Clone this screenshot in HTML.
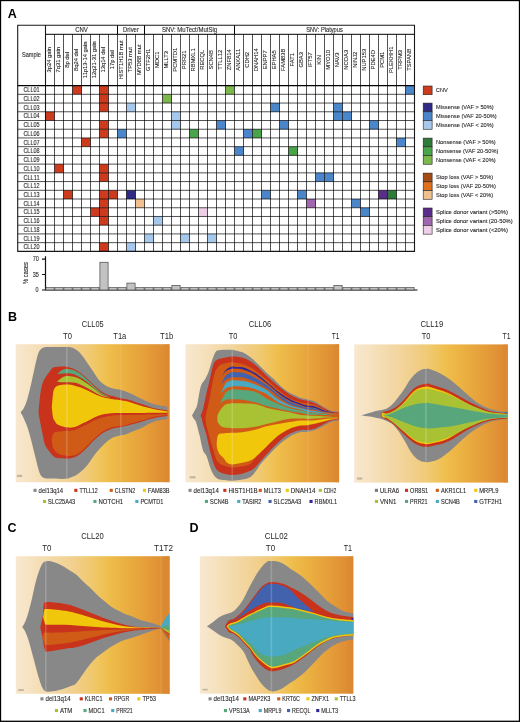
<!DOCTYPE html><html><head><meta charset='utf-8'><style>html,body{margin:0;padding:0;background:#fff;width:520px;height:722px;overflow:hidden}svg{display:block;will-change:transform}text{font-family:'Liberation Sans',sans-serif}</style></head><body><svg width='520' height='722' viewBox='0 0 520 722' font-family="Liberation Sans, sans-serif">
<defs><linearGradient id='bg' x1='0' y1='0' x2='1' y2='0'><stop offset='0' stop-color='#f8e8d0'/><stop offset='0.1' stop-color='#f6e2c0'/><stop offset='0.25' stop-color='#f3d8a6'/><stop offset='0.4' stop-color='#f1ce88'/><stop offset='0.5' stop-color='#f0c86c'/><stop offset='0.6' stop-color='#efbe4c'/><stop offset='0.7' stop-color='#ebb142'/><stop offset='0.85' stop-color='#e59d39'/><stop offset='1' stop-color='#dc8731'/></linearGradient></defs>
<rect width='520' height='722' fill='#fff'/>
<rect x='72.50' y='85.60' width='9.00' height='8.72' fill='#cd3b1f'/>
<rect x='99.50' y='85.60' width='9.00' height='8.72' fill='#cd3b1f'/>
<rect x='225.50' y='85.60' width='9.00' height='8.72' fill='#7cb84c'/>
<rect x='405.50' y='85.60' width='9.00' height='8.72' fill='#4a86c9'/>
<rect x='99.50' y='94.32' width='9.00' height='8.72' fill='#cd3b1f'/>
<rect x='162.50' y='94.32' width='9.00' height='8.72' fill='#7cb84c'/>
<rect x='99.50' y='103.05' width='9.00' height='8.72' fill='#cd3b1f'/>
<rect x='126.50' y='103.05' width='9.00' height='8.72' fill='#a5c8ec'/>
<rect x='270.50' y='103.05' width='9.00' height='8.72' fill='#4a86c9'/>
<rect x='333.50' y='103.05' width='9.00' height='8.72' fill='#4a86c9'/>
<rect x='45.50' y='111.77' width='9.00' height='8.72' fill='#cd3b1f'/>
<rect x='171.50' y='111.77' width='9.00' height='8.72' fill='#a5c8ec'/>
<rect x='333.50' y='111.77' width='9.00' height='8.72' fill='#4a86c9'/>
<rect x='342.50' y='111.77' width='9.00' height='8.72' fill='#4a86c9'/>
<rect x='99.50' y='120.50' width='9.00' height='8.72' fill='#cd3b1f'/>
<rect x='171.50' y='120.50' width='9.00' height='8.72' fill='#a5c8ec'/>
<rect x='216.50' y='120.50' width='9.00' height='8.72' fill='#4a86c9'/>
<rect x='279.50' y='120.50' width='9.00' height='8.72' fill='#4a86c9'/>
<rect x='369.50' y='120.50' width='9.00' height='8.72' fill='#4a86c9'/>
<rect x='99.50' y='129.22' width='9.00' height='8.72' fill='#cd3b1f'/>
<rect x='117.50' y='129.22' width='9.00' height='8.72' fill='#4a86c9'/>
<rect x='189.50' y='129.22' width='9.00' height='8.72' fill='#4aa44a'/>
<rect x='243.50' y='129.22' width='9.00' height='8.72' fill='#4a86c9'/>
<rect x='252.50' y='129.22' width='9.00' height='8.72' fill='#4aa44a'/>
<rect x='81.50' y='137.95' width='9.00' height='8.72' fill='#cd3b1f'/>
<rect x='396.50' y='137.95' width='9.00' height='8.72' fill='#4a86c9'/>
<rect x='234.50' y='146.67' width='9.00' height='8.72' fill='#4a86c9'/>
<rect x='288.50' y='146.67' width='9.00' height='8.72' fill='#4aa44a'/>
<rect x='54.50' y='164.12' width='9.00' height='8.72' fill='#cd3b1f'/>
<rect x='99.50' y='164.12' width='9.00' height='8.72' fill='#cd3b1f'/>
<rect x='99.50' y='172.85' width='9.00' height='8.72' fill='#cd3b1f'/>
<rect x='315.50' y='172.85' width='9.00' height='8.72' fill='#4a86c9'/>
<rect x='324.50' y='172.85' width='9.00' height='8.72' fill='#4a86c9'/>
<rect x='63.50' y='190.30' width='9.00' height='8.72' fill='#cd3b1f'/>
<rect x='99.50' y='190.30' width='9.00' height='8.72' fill='#cd3b1f'/>
<rect x='108.50' y='190.30' width='9.00' height='8.72' fill='#cd3b1f'/>
<rect x='126.50' y='190.30' width='9.00' height='8.72' fill='#2e2a85'/>
<rect x='261.50' y='190.30' width='9.00' height='8.72' fill='#4a86c9'/>
<rect x='297.50' y='190.30' width='9.00' height='8.72' fill='#4a86c9'/>
<rect x='378.50' y='190.30' width='9.00' height='8.72' fill='#5b2d8b'/>
<rect x='387.50' y='190.30' width='9.00' height='8.72' fill='#2f7b39'/>
<rect x='99.50' y='199.02' width='9.00' height='8.72' fill='#cd3b1f'/>
<rect x='135.50' y='199.02' width='9.00' height='8.72' fill='#f1c08f'/>
<rect x='306.50' y='199.02' width='9.00' height='8.72' fill='#a066b1'/>
<rect x='351.50' y='199.02' width='9.00' height='8.72' fill='#4a86c9'/>
<rect x='90.50' y='207.75' width='9.00' height='8.72' fill='#cd3b1f'/>
<rect x='99.50' y='207.75' width='9.00' height='8.72' fill='#cd3b1f'/>
<rect x='198.50' y='207.75' width='9.00' height='8.72' fill='#efcfe8'/>
<rect x='360.50' y='207.75' width='9.00' height='8.72' fill='#4a86c9'/>
<rect x='99.50' y='216.47' width='9.00' height='8.72' fill='#cd3b1f'/>
<rect x='153.50' y='216.47' width='9.00' height='8.72' fill='#a5c8ec'/>
<rect x='144.50' y='233.92' width='9.00' height='8.72' fill='#a5c8ec'/>
<rect x='180.50' y='233.92' width='9.00' height='8.72' fill='#a5c8ec'/>
<rect x='207.50' y='233.92' width='9.00' height='8.72' fill='#a5c8ec'/>
<rect x='99.50' y='242.65' width='9.00' height='8.72' fill='#cd3b1f'/>
<rect x='126.50' y='242.65' width='9.00' height='8.72' fill='#a5c8ec'/>
<path d='M54.50,34.3V251.38 M63.50,34.3V251.38 M72.50,34.3V251.38 M81.50,34.3V251.38 M90.50,34.3V251.38 M99.50,34.3V251.38 M108.50,34.3V251.38 M117.50,34.3V251.38 M126.50,34.3V251.38 M135.50,34.3V251.38 M144.50,34.3V251.38 M153.50,34.3V251.38 M162.50,34.3V251.38 M171.50,34.3V251.38 M180.50,34.3V251.38 M189.50,34.3V251.38 M198.50,34.3V251.38 M207.50,34.3V251.38 M216.50,34.3V251.38 M225.50,34.3V251.38 M234.50,34.3V251.38 M243.50,34.3V251.38 M252.50,34.3V251.38 M261.50,34.3V251.38 M270.50,34.3V251.38 M279.50,34.3V251.38 M288.50,34.3V251.38 M297.50,34.3V251.38 M306.50,34.3V251.38 M315.50,34.3V251.38 M324.50,34.3V251.38 M333.50,34.3V251.38 M342.50,34.3V251.38 M351.50,34.3V251.38 M360.50,34.3V251.38 M369.50,34.3V251.38 M378.50,34.3V251.38 M387.50,34.3V251.38 M396.50,34.3V251.38 M405.50,34.3V251.38' stroke='#000' stroke-opacity='0.68' stroke-width='1.0' fill='none'/>
<path d='M17.7,94.32H414.5 M17.7,103.05H414.5 M17.7,111.77H414.5 M17.7,120.50H414.5 M17.7,129.22H414.5 M17.7,137.95H414.5 M17.7,146.67H414.5 M17.7,155.40H414.5 M17.7,164.12H414.5 M17.7,172.85H414.5 M17.7,181.57H414.5 M17.7,190.30H414.5 M17.7,199.02H414.5 M17.7,207.75H414.5 M17.7,216.47H414.5 M17.7,225.20H414.5 M17.7,233.92H414.5 M17.7,242.65H414.5' stroke='#000' stroke-opacity='0.68' stroke-width='1.0' fill='none'/>
<path d='M117.50,25.3V34.3 M144.50,25.3V34.3 M234.50,25.3V34.3 M45.5,34.3H414.5' stroke='#000' stroke-width='1.0' fill='none'/>
<path d='M17.7,25.3H414.5V251.38H17.7Z M45.5,25.3V251.38' stroke='#000' stroke-opacity='0.9' stroke-width='1.1' fill='none'/>
<path d='M17.7,85.6H414.5' stroke='#000' stroke-width='1.3' fill='none'/>
<text x='81.50' y='31.80' font-size='6.7' text-anchor='middle' font-weight='normal' fill='#231f20' textLength='12.7' lengthAdjust='spacingAndGlyphs' stroke='#231f20' stroke-width='0.1' >CNV</text>
<text x='131.00' y='31.80' font-size='6.7' text-anchor='middle' font-weight='normal' fill='#231f20' textLength='15.8' lengthAdjust='spacingAndGlyphs' stroke='#231f20' stroke-width='0.1' >Driver</text>
<text x='189.50' y='31.80' font-size='6.7' text-anchor='middle' font-weight='normal' fill='#231f20' textLength='55.2' lengthAdjust='spacingAndGlyphs' stroke='#231f20' stroke-width='0.1' >SNV: MuTect/MutSig</text>
<text x='324.50' y='31.80' font-size='6.7' text-anchor='middle' font-weight='normal' fill='#231f20' textLength='36.6' lengthAdjust='spacingAndGlyphs' stroke='#231f20' stroke-width='0.1' >SNV: Platypus</text>
<text x='21.90' y='57.40' font-size='6.7' text-anchor='start' font-weight='normal' fill='#231f20' textLength='19.0' lengthAdjust='spacingAndGlyphs' stroke='#231f20' stroke-width='0.1' >Sample</text>
<text x='0' y='0' font-size='6.1' text-anchor='middle' fill='#231f20' stroke='#231f20' stroke-width='0.1' textLength='25.48' lengthAdjust='spacingAndGlyphs' transform='translate(51.45,59.80) rotate(-90)'>3p24 gain</text>
<text x='0' y='0' font-size='6.1' text-anchor='middle' fill='#231f20' stroke='#231f20' stroke-width='0.1' textLength='25.48' lengthAdjust='spacingAndGlyphs' transform='translate(60.45,59.80) rotate(-90)'>7q31 gain</text>
<text x='0' y='0' font-size='6.1' text-anchor='middle' fill='#231f20' stroke='#231f20' stroke-width='0.1' textLength='15.80' lengthAdjust='spacingAndGlyphs' transform='translate(69.45,59.80) rotate(-90)'>8p del</text>
<text x='0' y='0' font-size='6.1' text-anchor='middle' fill='#231f20' stroke='#231f20' stroke-width='0.1' textLength='22.25' lengthAdjust='spacingAndGlyphs' transform='translate(78.45,59.80) rotate(-90)'>8q24 del</text>
<text x='0' y='0' font-size='6.1' text-anchor='middle' fill='#231f20' stroke='#231f20' stroke-width='0.1' textLength='36.66' lengthAdjust='spacingAndGlyphs' transform='translate(87.45,59.80) rotate(-90)'>11p13-14 gain</text>
<text x='0' y='0' font-size='6.1' text-anchor='middle' fill='#231f20' stroke='#231f20' stroke-width='0.1' textLength='37.09' lengthAdjust='spacingAndGlyphs' transform='translate(96.45,59.80) rotate(-90)'>12q21-31 gain</text>
<text x='0' y='0' font-size='6.1' text-anchor='middle' fill='#231f20' stroke='#231f20' stroke-width='0.1' textLength='25.48' lengthAdjust='spacingAndGlyphs' transform='translate(105.45,59.80) rotate(-90)'>13q14 del</text>
<text x='0' y='0' font-size='6.1' text-anchor='middle' fill='#231f20' stroke='#231f20' stroke-width='0.1' textLength='19.03' lengthAdjust='spacingAndGlyphs' transform='translate(114.45,59.80) rotate(-90)'>17p del</text>
<text x='0' y='0' font-size='6.1' text-anchor='middle' fill='#231f20' stroke='#231f20' stroke-width='0.1' textLength='39.00' lengthAdjust='spacingAndGlyphs' transform='translate(123.45,59.80) rotate(-90)'>HIST1H1B mut</text>
<text x='0' y='0' font-size='6.1' text-anchor='middle' fill='#231f20' stroke='#231f20' stroke-width='0.1' textLength='25.14' lengthAdjust='spacingAndGlyphs' transform='translate(132.45,59.80) rotate(-90)'>TP53 mut</text>
<text x='0' y='0' font-size='6.1' text-anchor='middle' fill='#231f20' stroke='#231f20' stroke-width='0.1' textLength='30.62' lengthAdjust='spacingAndGlyphs' transform='translate(141.45,59.80) rotate(-90)'>MYD88 mut</text>
<text x='0' y='0' font-size='6.1' text-anchor='middle' fill='#231f20' stroke='#231f20' stroke-width='0.1' textLength='22.24' lengthAdjust='spacingAndGlyphs' transform='translate(150.45,59.80) rotate(-90)'>GTF2H1</text>
<text x='0' y='0' font-size='6.1' text-anchor='middle' fill='#231f20' stroke='#231f20' stroke-width='0.1' textLength='16.43' lengthAdjust='spacingAndGlyphs' transform='translate(159.45,59.80) rotate(-90)'>MDC1</text>
<text x='0' y='0' font-size='6.1' text-anchor='middle' fill='#231f20' stroke='#231f20' stroke-width='0.1' textLength='17.62' lengthAdjust='spacingAndGlyphs' transform='translate(168.45,59.80) rotate(-90)'>MLLT3</text>
<text x='0' y='0' font-size='6.1' text-anchor='middle' fill='#231f20' stroke='#231f20' stroke-width='0.1' textLength='23.85' lengthAdjust='spacingAndGlyphs' transform='translate(177.45,59.80) rotate(-90)'>PCMTD1</text>
<text x='0' y='0' font-size='6.1' text-anchor='middle' fill='#231f20' stroke='#231f20' stroke-width='0.1' textLength='18.70' lengthAdjust='spacingAndGlyphs' transform='translate(186.45,59.80) rotate(-90)'>PRR21</text>
<text x='0' y='0' font-size='6.1' text-anchor='middle' fill='#231f20' stroke='#231f20' stroke-width='0.1' textLength='23.21' lengthAdjust='spacingAndGlyphs' transform='translate(195.45,59.80) rotate(-90)'>RBMXL1</text>
<text x='0' y='0' font-size='6.1' text-anchor='middle' fill='#231f20' stroke='#231f20' stroke-width='0.1' textLength='19.98' lengthAdjust='spacingAndGlyphs' transform='translate(204.45,59.80) rotate(-90)'>RECQL</text>
<text x='0' y='0' font-size='6.1' text-anchor='middle' fill='#231f20' stroke='#231f20' stroke-width='0.1' textLength='19.34' lengthAdjust='spacingAndGlyphs' transform='translate(213.45,59.80) rotate(-90)'>SCN4B</text>
<text x='0' y='0' font-size='6.1' text-anchor='middle' fill='#231f20' stroke='#231f20' stroke-width='0.1' textLength='19.99' lengthAdjust='spacingAndGlyphs' transform='translate(222.45,59.80) rotate(-90)'>TTLL12</text>
<text x='0' y='0' font-size='6.1' text-anchor='middle' fill='#231f20' stroke='#231f20' stroke-width='0.1' textLength='20.95' lengthAdjust='spacingAndGlyphs' transform='translate(231.45,59.80) rotate(-90)'>ZNF814</text>
<text x='0' y='0' font-size='6.1' text-anchor='middle' fill='#231f20' stroke='#231f20' stroke-width='0.1' textLength='21.82' lengthAdjust='spacingAndGlyphs' transform='translate(240.45,59.80) rotate(-90)'>ANXA11</text>
<text x='0' y='0' font-size='6.1' text-anchor='middle' fill='#231f20' stroke='#231f20' stroke-width='0.1' textLength='15.79' lengthAdjust='spacingAndGlyphs' transform='translate(249.45,59.80) rotate(-90)'>CDH2</text>
<text x='0' y='0' font-size='6.1' text-anchor='middle' fill='#231f20' stroke='#231f20' stroke-width='0.1' textLength='22.89' lengthAdjust='spacingAndGlyphs' transform='translate(258.45,59.80) rotate(-90)'>DNAH14</text>
<text x='0' y='0' font-size='6.1' text-anchor='middle' fill='#231f20' stroke='#231f20' stroke-width='0.1' textLength='19.02' lengthAdjust='spacingAndGlyphs' transform='translate(267.45,59.80) rotate(-90)'>ENPP7</text>
<text x='0' y='0' font-size='6.1' text-anchor='middle' fill='#231f20' stroke='#231f20' stroke-width='0.1' textLength='19.02' lengthAdjust='spacingAndGlyphs' transform='translate(276.45,59.80) rotate(-90)'>EPHA5</text>
<text x='0' y='0' font-size='6.1' text-anchor='middle' fill='#231f20' stroke='#231f20' stroke-width='0.1' textLength='22.24' lengthAdjust='spacingAndGlyphs' transform='translate(285.45,59.80) rotate(-90)'>FAM83B</text>
<text x='0' y='0' font-size='6.1' text-anchor='middle' fill='#231f20' stroke='#231f20' stroke-width='0.1' textLength='13.43' lengthAdjust='spacingAndGlyphs' transform='translate(294.45,59.80) rotate(-90)'>FAT1</text>
<text x='0' y='0' font-size='6.1' text-anchor='middle' fill='#231f20' stroke='#231f20' stroke-width='0.1' textLength='15.47' lengthAdjust='spacingAndGlyphs' transform='translate(303.45,59.80) rotate(-90)'>GBA3</text>
<text x='0' y='0' font-size='6.1' text-anchor='middle' fill='#231f20' stroke='#231f20' stroke-width='0.1' textLength='15.15' lengthAdjust='spacingAndGlyphs' transform='translate(312.45,59.80) rotate(-90)'>IFT57</text>
<text x='0' y='0' font-size='6.1' text-anchor='middle' fill='#231f20' stroke='#231f20' stroke-width='0.1' textLength='9.67' lengthAdjust='spacingAndGlyphs' transform='translate(321.45,59.80) rotate(-90)'>KIN</text>
<text x='0' y='0' font-size='6.1' text-anchor='middle' fill='#231f20' stroke='#231f20' stroke-width='0.1' textLength='19.66' lengthAdjust='spacingAndGlyphs' transform='translate(330.45,59.80) rotate(-90)'>MYO10</text>
<text x='0' y='0' font-size='6.1' text-anchor='middle' fill='#231f20' stroke='#231f20' stroke-width='0.1' textLength='14.72' lengthAdjust='spacingAndGlyphs' transform='translate(339.45,59.80) rotate(-90)'>NAV3</text>
<text x='0' y='0' font-size='6.1' text-anchor='middle' fill='#231f20' stroke='#231f20' stroke-width='0.1' textLength='19.98' lengthAdjust='spacingAndGlyphs' transform='translate(348.45,59.80) rotate(-90)'>NCOA3</text>
<text x='0' y='0' font-size='6.1' text-anchor='middle' fill='#231f20' stroke='#231f20' stroke-width='0.1' textLength='16.11' lengthAdjust='spacingAndGlyphs' transform='translate(357.45,59.80) rotate(-90)'>NINJ2</text>
<text x='0' y='0' font-size='6.1' text-anchor='middle' fill='#231f20' stroke='#231f20' stroke-width='0.1' textLength='21.92' lengthAdjust='spacingAndGlyphs' transform='translate(366.45,59.80) rotate(-90)'>NUP153</text>
<text x='0' y='0' font-size='6.1' text-anchor='middle' fill='#231f20' stroke='#231f20' stroke-width='0.1' textLength='19.34' lengthAdjust='spacingAndGlyphs' transform='translate(375.45,59.80) rotate(-90)'>PDE4D</text>
<text x='0' y='0' font-size='6.1' text-anchor='middle' fill='#231f20' stroke='#231f20' stroke-width='0.1' textLength='16.11' lengthAdjust='spacingAndGlyphs' transform='translate(384.45,59.80) rotate(-90)'>PCM1</text>
<text x='0' y='0' font-size='6.1' text-anchor='middle' fill='#231f20' stroke='#231f20' stroke-width='0.1' textLength='26.44' lengthAdjust='spacingAndGlyphs' transform='translate(393.45,59.80) rotate(-90)'>PLEKHH1</text>
<text x='0' y='0' font-size='6.1' text-anchor='middle' fill='#231f20' stroke='#231f20' stroke-width='0.1' textLength='19.66' lengthAdjust='spacingAndGlyphs' transform='translate(402.45,59.80) rotate(-90)'>TRPM3</text>
<text x='0' y='0' font-size='6.1' text-anchor='middle' fill='#231f20' stroke='#231f20' stroke-width='0.1' textLength='22.13' lengthAdjust='spacingAndGlyphs' transform='translate(411.45,59.80) rotate(-90)'>TSPAN8</text>
<text x='23.40' y='92.25' font-size='6.7' text-anchor='start' font-weight='normal' fill='#231f20' textLength='16.2' lengthAdjust='spacingAndGlyphs' stroke='#231f20' stroke-width='0.1' >CLL01</text>
<text x='23.40' y='100.97' font-size='6.7' text-anchor='start' font-weight='normal' fill='#231f20' textLength='16.2' lengthAdjust='spacingAndGlyphs' stroke='#231f20' stroke-width='0.1' >CLL02</text>
<text x='23.40' y='109.70' font-size='6.7' text-anchor='start' font-weight='normal' fill='#231f20' textLength='16.2' lengthAdjust='spacingAndGlyphs' stroke='#231f20' stroke-width='0.1' >CLL03</text>
<text x='23.40' y='118.42' font-size='6.7' text-anchor='start' font-weight='normal' fill='#231f20' textLength='16.2' lengthAdjust='spacingAndGlyphs' stroke='#231f20' stroke-width='0.1' >CLL04</text>
<text x='23.40' y='127.15' font-size='6.7' text-anchor='start' font-weight='normal' fill='#231f20' textLength='16.2' lengthAdjust='spacingAndGlyphs' stroke='#231f20' stroke-width='0.1' >CLL05</text>
<text x='23.40' y='135.88' font-size='6.7' text-anchor='start' font-weight='normal' fill='#231f20' textLength='16.2' lengthAdjust='spacingAndGlyphs' stroke='#231f20' stroke-width='0.1' >CLL06</text>
<text x='23.40' y='144.60' font-size='6.7' text-anchor='start' font-weight='normal' fill='#231f20' textLength='16.2' lengthAdjust='spacingAndGlyphs' stroke='#231f20' stroke-width='0.1' >CLL07</text>
<text x='23.40' y='153.32' font-size='6.7' text-anchor='start' font-weight='normal' fill='#231f20' textLength='16.2' lengthAdjust='spacingAndGlyphs' stroke='#231f20' stroke-width='0.1' >CLL08</text>
<text x='23.40' y='162.05' font-size='6.7' text-anchor='start' font-weight='normal' fill='#231f20' textLength='16.2' lengthAdjust='spacingAndGlyphs' stroke='#231f20' stroke-width='0.1' >CLL09</text>
<text x='23.40' y='170.78' font-size='6.7' text-anchor='start' font-weight='normal' fill='#231f20' textLength='16.2' lengthAdjust='spacingAndGlyphs' stroke='#231f20' stroke-width='0.1' >CLL10</text>
<text x='23.40' y='179.50' font-size='6.7' text-anchor='start' font-weight='normal' fill='#231f20' textLength='16.2' lengthAdjust='spacingAndGlyphs' stroke='#231f20' stroke-width='0.1' >CLL11</text>
<text x='23.40' y='188.22' font-size='6.7' text-anchor='start' font-weight='normal' fill='#231f20' textLength='16.2' lengthAdjust='spacingAndGlyphs' stroke='#231f20' stroke-width='0.1' >CLL12</text>
<text x='23.40' y='196.95' font-size='6.7' text-anchor='start' font-weight='normal' fill='#231f20' textLength='16.2' lengthAdjust='spacingAndGlyphs' stroke='#231f20' stroke-width='0.1' >CLL13</text>
<text x='23.40' y='205.67' font-size='6.7' text-anchor='start' font-weight='normal' fill='#231f20' textLength='16.2' lengthAdjust='spacingAndGlyphs' stroke='#231f20' stroke-width='0.1' >CLL14</text>
<text x='23.40' y='214.40' font-size='6.7' text-anchor='start' font-weight='normal' fill='#231f20' textLength='16.2' lengthAdjust='spacingAndGlyphs' stroke='#231f20' stroke-width='0.1' >CLL15</text>
<text x='23.40' y='223.12' font-size='6.7' text-anchor='start' font-weight='normal' fill='#231f20' textLength='16.2' lengthAdjust='spacingAndGlyphs' stroke='#231f20' stroke-width='0.1' >CLL16</text>
<text x='23.40' y='231.85' font-size='6.7' text-anchor='start' font-weight='normal' fill='#231f20' textLength='16.2' lengthAdjust='spacingAndGlyphs' stroke='#231f20' stroke-width='0.1' >CLL18</text>
<text x='23.40' y='240.57' font-size='6.7' text-anchor='start' font-weight='normal' fill='#231f20' textLength='16.2' lengthAdjust='spacingAndGlyphs' stroke='#231f20' stroke-width='0.1' >CLL19</text>
<text x='23.40' y='249.30' font-size='6.7' text-anchor='start' font-weight='normal' fill='#231f20' textLength='16.2' lengthAdjust='spacingAndGlyphs' stroke='#231f20' stroke-width='0.1' >CLL20</text>
<rect x='423.2' y='86' width='8.9' height='8.72' fill='#cd3b1f' stroke='#222' stroke-width='0.6'/>
<text x='435.80' y='91.60' font-size='6.2' text-anchor='start' font-weight='normal' fill='#231f20' textLength='12.1' lengthAdjust='spacingAndGlyphs' stroke='#231f20' stroke-width='0.1' >CNV</text>
<rect x='423.2' y='103.10' width='8.9' height='8.72' fill='#2e2a85' stroke='#222' stroke-width='0.6'/>
<text x='436.00' y='109.36' font-size='6.2' text-anchor='start' font-weight='normal' fill='#231f20' textLength='57.6' lengthAdjust='spacingAndGlyphs' stroke='#231f20' stroke-width='0.1' >Missense (VAF &gt; 50%)</text>
<rect x='423.2' y='111.82' width='8.9' height='8.72' fill='#4a86c9' stroke='#222' stroke-width='0.6'/>
<text x='436.00' y='118.08' font-size='6.2' text-anchor='start' font-weight='normal' fill='#231f20' textLength='60.7' lengthAdjust='spacingAndGlyphs' stroke='#231f20' stroke-width='0.1' >Missense (VAF 20-50%)</text>
<rect x='423.2' y='120.54' width='8.9' height='8.72' fill='#a5c8ec' stroke='#222' stroke-width='0.6'/>
<text x='436.00' y='126.80' font-size='6.2' text-anchor='start' font-weight='normal' fill='#231f20' textLength='57.6' lengthAdjust='spacingAndGlyphs' stroke='#231f20' stroke-width='0.1' >Missense (VAF &lt; 20%)</text>
<rect x='423.2' y='138.10' width='8.9' height='8.72' fill='#2f7b39' stroke='#222' stroke-width='0.6'/>
<text x='436.00' y='144.36' font-size='6.2' text-anchor='start' font-weight='normal' fill='#231f20' textLength='59.7' lengthAdjust='spacingAndGlyphs' stroke='#231f20' stroke-width='0.1' >Nonsense (VAF &gt; 50%)</text>
<rect x='423.2' y='146.82' width='8.9' height='8.72' fill='#4aa44a' stroke='#222' stroke-width='0.6'/>
<text x='436.00' y='153.08' font-size='6.2' text-anchor='start' font-weight='normal' fill='#231f20' textLength='62.3' lengthAdjust='spacingAndGlyphs' stroke='#231f20' stroke-width='0.1' >Nonsense (VAF 20-50%)</text>
<rect x='423.2' y='155.54' width='8.9' height='8.72' fill='#7cb84c' stroke='#222' stroke-width='0.6'/>
<text x='436.00' y='161.80' font-size='6.2' text-anchor='start' font-weight='normal' fill='#231f20' textLength='59.7' lengthAdjust='spacingAndGlyphs' stroke='#231f20' stroke-width='0.1' >Nonsense (VAF &lt; 20%)</text>
<rect x='423.2' y='173.10' width='8.9' height='8.72' fill='#a54b15' stroke='#222' stroke-width='0.6'/>
<text x='436.00' y='179.36' font-size='6.2' text-anchor='start' font-weight='normal' fill='#231f20' textLength='57.1' lengthAdjust='spacingAndGlyphs' stroke='#231f20' stroke-width='0.1' >Stop loss (VAF &gt; 50%)</text>
<rect x='423.2' y='181.82' width='8.9' height='8.72' fill='#e0701c' stroke='#222' stroke-width='0.6'/>
<text x='436.00' y='188.08' font-size='6.2' text-anchor='start' font-weight='normal' fill='#231f20' textLength='60.0' lengthAdjust='spacingAndGlyphs' stroke='#231f20' stroke-width='0.1' >Stop loss (VAF 20-50%)</text>
<rect x='423.2' y='190.54' width='8.9' height='8.72' fill='#f1c08f' stroke='#222' stroke-width='0.6'/>
<text x='436.00' y='196.80' font-size='6.2' text-anchor='start' font-weight='normal' fill='#231f20' textLength='57.1' lengthAdjust='spacingAndGlyphs' stroke='#231f20' stroke-width='0.1' >Stop loss (VAF &lt; 20%)</text>
<rect x='423.2' y='208.00' width='8.9' height='8.72' fill='#5b2d8b' stroke='#222' stroke-width='0.6'/>
<text x='436.00' y='214.26' font-size='6.2' text-anchor='start' font-weight='normal' fill='#231f20' textLength='71.9' lengthAdjust='spacingAndGlyphs' stroke='#231f20' stroke-width='0.1' >Splice donor variant (&gt;50%)</text>
<rect x='423.2' y='216.72' width='8.9' height='8.72' fill='#a066b1' stroke='#222' stroke-width='0.6'/>
<text x='436.00' y='222.98' font-size='6.2' text-anchor='start' font-weight='normal' fill='#231f20' textLength='76.7' lengthAdjust='spacingAndGlyphs' stroke='#231f20' stroke-width='0.1' >Splice donor variant (20-50%)</text>
<rect x='423.2' y='225.44' width='8.9' height='8.72' fill='#efcfe8' stroke='#222' stroke-width='0.6'/>
<text x='436.00' y='231.70' font-size='6.2' text-anchor='start' font-weight='normal' fill='#231f20' textLength='71.9' lengthAdjust='spacingAndGlyphs' stroke='#231f20' stroke-width='0.1' >Splice donor variant (&lt;20%)</text>
<path d='M45.5,256.2V290.0 M45.5,290.0H417.5 M42,259.1H45.5 M42,274.5H45.5 M42,290.0H45.5' stroke='#111' stroke-width='1.2' fill='none'/>
<text x='38.80' y='260.90' font-size='6.6' text-anchor='end' font-weight='normal' fill='#231f20' textLength='6.1' lengthAdjust='spacingAndGlyphs' stroke='#231f20' stroke-width='0.1' >70</text>
<text x='38.80' y='276.80' font-size='6.6' text-anchor='end' font-weight='normal' fill='#231f20' textLength='6.1' lengthAdjust='spacingAndGlyphs' stroke='#231f20' stroke-width='0.1' >35</text>
<text x='38.40' y='292.10' font-size='6.6' text-anchor='end' font-weight='normal' fill='#231f20' textLength='3.0' lengthAdjust='spacingAndGlyphs' stroke='#231f20' stroke-width='0.1' >0</text>
<text x='0' y='0' font-size='7.6' text-anchor='middle' fill='#231f20' stroke='#231f20' stroke-width='0.12' textLength='21.9' lengthAdjust='spacingAndGlyphs' transform='translate(27.8,273.0) rotate(-90)'>% cases</text>
<rect x='45.90' y='287.68' width='8.20' height='2.32' fill='#c2c2c2' stroke='#333' stroke-width='0.6'/>
<rect x='54.90' y='287.68' width='8.20' height='2.32' fill='#c2c2c2' stroke='#333' stroke-width='0.6'/>
<rect x='63.90' y='287.68' width='8.20' height='2.32' fill='#c2c2c2' stroke='#333' stroke-width='0.6'/>
<rect x='72.90' y='287.68' width='8.20' height='2.32' fill='#c2c2c2' stroke='#333' stroke-width='0.6'/>
<rect x='81.90' y='287.68' width='8.20' height='2.32' fill='#c2c2c2' stroke='#333' stroke-width='0.6'/>
<rect x='90.90' y='287.68' width='8.20' height='2.32' fill='#c2c2c2' stroke='#333' stroke-width='0.6'/>
<rect x='99.90' y='262.21' width='8.20' height='27.79' fill='#c2c2c2' stroke='#333' stroke-width='0.6'/>
<rect x='108.90' y='287.68' width='8.20' height='2.32' fill='#c2c2c2' stroke='#333' stroke-width='0.6'/>
<rect x='117.90' y='287.68' width='8.20' height='2.32' fill='#c2c2c2' stroke='#333' stroke-width='0.6'/>
<rect x='126.90' y='283.05' width='8.20' height='6.95' fill='#c2c2c2' stroke='#333' stroke-width='0.6'/>
<rect x='135.90' y='287.68' width='8.20' height='2.32' fill='#c2c2c2' stroke='#333' stroke-width='0.6'/>
<rect x='144.90' y='287.68' width='8.20' height='2.32' fill='#c2c2c2' stroke='#333' stroke-width='0.6'/>
<rect x='153.90' y='287.68' width='8.20' height='2.32' fill='#c2c2c2' stroke='#333' stroke-width='0.6'/>
<rect x='162.90' y='287.68' width='8.20' height='2.32' fill='#c2c2c2' stroke='#333' stroke-width='0.6'/>
<rect x='171.90' y='285.37' width='8.20' height='4.63' fill='#c2c2c2' stroke='#333' stroke-width='0.6'/>
<rect x='180.90' y='287.68' width='8.20' height='2.32' fill='#c2c2c2' stroke='#333' stroke-width='0.6'/>
<rect x='189.90' y='287.68' width='8.20' height='2.32' fill='#c2c2c2' stroke='#333' stroke-width='0.6'/>
<rect x='198.90' y='287.68' width='8.20' height='2.32' fill='#c2c2c2' stroke='#333' stroke-width='0.6'/>
<rect x='207.90' y='287.68' width='8.20' height='2.32' fill='#c2c2c2' stroke='#333' stroke-width='0.6'/>
<rect x='216.90' y='287.68' width='8.20' height='2.32' fill='#c2c2c2' stroke='#333' stroke-width='0.6'/>
<rect x='225.90' y='287.68' width='8.20' height='2.32' fill='#c2c2c2' stroke='#333' stroke-width='0.6'/>
<rect x='234.90' y='287.68' width='8.20' height='2.32' fill='#c2c2c2' stroke='#333' stroke-width='0.6'/>
<rect x='243.90' y='287.68' width='8.20' height='2.32' fill='#c2c2c2' stroke='#333' stroke-width='0.6'/>
<rect x='252.90' y='287.68' width='8.20' height='2.32' fill='#c2c2c2' stroke='#333' stroke-width='0.6'/>
<rect x='261.90' y='287.68' width='8.20' height='2.32' fill='#c2c2c2' stroke='#333' stroke-width='0.6'/>
<rect x='270.90' y='287.68' width='8.20' height='2.32' fill='#c2c2c2' stroke='#333' stroke-width='0.6'/>
<rect x='279.90' y='287.68' width='8.20' height='2.32' fill='#c2c2c2' stroke='#333' stroke-width='0.6'/>
<rect x='288.90' y='287.68' width='8.20' height='2.32' fill='#c2c2c2' stroke='#333' stroke-width='0.6'/>
<rect x='297.90' y='287.68' width='8.20' height='2.32' fill='#c2c2c2' stroke='#333' stroke-width='0.6'/>
<rect x='306.90' y='287.68' width='8.20' height='2.32' fill='#c2c2c2' stroke='#333' stroke-width='0.6'/>
<rect x='315.90' y='287.68' width='8.20' height='2.32' fill='#c2c2c2' stroke='#333' stroke-width='0.6'/>
<rect x='324.90' y='287.68' width='8.20' height='2.32' fill='#c2c2c2' stroke='#333' stroke-width='0.6'/>
<rect x='333.90' y='285.37' width='8.20' height='4.63' fill='#c2c2c2' stroke='#333' stroke-width='0.6'/>
<rect x='342.90' y='287.68' width='8.20' height='2.32' fill='#c2c2c2' stroke='#333' stroke-width='0.6'/>
<rect x='351.90' y='287.68' width='8.20' height='2.32' fill='#c2c2c2' stroke='#333' stroke-width='0.6'/>
<rect x='360.90' y='287.68' width='8.20' height='2.32' fill='#c2c2c2' stroke='#333' stroke-width='0.6'/>
<rect x='369.90' y='287.68' width='8.20' height='2.32' fill='#c2c2c2' stroke='#333' stroke-width='0.6'/>
<rect x='378.90' y='287.68' width='8.20' height='2.32' fill='#c2c2c2' stroke='#333' stroke-width='0.6'/>
<rect x='387.90' y='287.68' width='8.20' height='2.32' fill='#c2c2c2' stroke='#333' stroke-width='0.6'/>
<rect x='396.90' y='287.68' width='8.20' height='2.32' fill='#c2c2c2' stroke='#333' stroke-width='0.6'/>
<rect x='405.90' y='287.68' width='8.20' height='2.32' fill='#c2c2c2' stroke='#333' stroke-width='0.6'/>
<rect x='15.7' y='344.2' width='153.90' height='138.00' fill='url(#bg)'/>
<rect x='165.10' y='344.2' width='4.5' height='138.00' fill='#d98a33' opacity='0.45'/>
<path d='M20.60,412.50C21.18,411.68 22.95,409.95 24.10,407.60C25.25,405.25 26.35,402.25 27.50,398.40C28.65,394.55 29.83,389.50 31.00,384.50C32.17,379.50 33.35,373.40 34.50,368.40C35.65,363.40 36.95,357.58 37.90,354.50C38.85,351.42 39.23,351.08 40.20,349.90C41.17,348.72 41.97,347.88 43.70,347.40C45.43,346.92 46.75,347.07 50.60,347.00C54.45,346.93 63.50,346.95 66.80,347.00C70.10,347.05 69.03,346.98 70.40,347.30C71.77,347.62 73.47,348.05 75.00,348.90C76.53,349.75 78.07,350.85 79.60,352.40C81.13,353.95 82.67,356.08 84.20,358.20C85.73,360.32 87.25,362.80 88.80,365.10C90.35,367.40 91.95,369.70 93.50,372.00C95.05,374.30 96.57,376.98 98.10,378.90C99.63,380.82 100.97,382.15 102.70,383.50C104.43,384.85 106.58,386.13 108.50,387.00C110.42,387.87 112.15,388.23 114.20,388.70C116.25,389.17 118.13,389.03 120.80,389.80C123.47,390.57 126.62,391.72 130.20,393.30C133.78,394.88 138.28,397.47 142.30,399.30C146.32,401.13 150.12,403.07 154.30,404.30C158.48,405.53 165.22,406.30 167.40,406.70L167.40,419.00C165.22,419.40 158.48,420.00 154.30,421.40C150.12,422.80 146.32,425.55 142.30,427.40C138.28,429.25 132.92,431.37 130.20,432.50C127.48,433.63 128.05,433.63 126.00,434.20C123.95,434.77 120.20,435.28 117.90,435.90C115.60,436.52 114.12,436.90 112.20,437.90C110.28,438.90 108.33,440.27 106.40,441.90C104.47,443.53 102.53,445.58 100.60,447.70C98.67,449.82 96.72,452.10 94.80,454.60C92.88,457.10 91.02,460.20 89.10,462.70C87.18,465.20 85.23,467.68 83.30,469.60C81.37,471.52 79.42,472.95 77.50,474.20C75.58,475.45 73.72,476.33 71.80,477.10C69.88,477.87 69.53,478.55 66.00,478.80C62.47,479.05 54.32,478.78 50.60,478.60C46.88,478.42 45.43,478.43 43.70,477.70C41.97,476.97 41.17,475.93 40.20,474.20C39.23,472.47 38.67,469.98 37.90,467.30C37.13,464.62 36.37,461.18 35.60,458.10C34.83,455.02 34.27,452.65 33.30,448.80C32.33,444.95 30.95,439.03 29.80,435.00C28.65,430.97 27.55,427.68 26.40,424.60C25.25,421.52 23.87,418.52 22.90,416.50C21.93,414.48 20.98,413.17 20.60,412.50Z' fill='#888888'/>
<path d='M38.50,412.50C38.78,409.57 39.53,399.75 40.20,394.90C40.87,390.05 41.53,386.47 42.50,383.40C43.47,380.33 44.83,378.43 46.00,376.50C47.17,374.57 48.35,373.25 49.50,371.80C50.65,370.35 51.57,368.65 52.90,367.80C54.23,366.95 55.18,366.88 57.50,366.70C59.82,366.52 64.08,366.30 66.80,366.70C69.52,367.10 71.47,368.02 73.80,369.10C76.13,370.18 78.48,371.57 80.80,373.20C83.12,374.83 85.40,376.80 87.70,378.90C90.00,381.00 92.30,383.68 94.60,385.80C96.90,387.92 99.18,390.05 101.50,391.60C103.82,393.15 106.18,394.23 108.50,395.10C110.82,395.97 113.35,396.27 115.40,396.80C117.45,397.33 118.33,397.72 120.80,398.30C123.27,398.88 126.62,399.30 130.20,400.30C133.78,401.30 138.28,402.97 142.30,404.30C146.32,405.63 150.12,407.28 154.30,408.30C158.48,409.32 165.22,410.05 167.40,410.40L167.40,416.00C165.22,416.33 158.48,417.10 154.30,418.00C150.12,418.90 146.32,420.27 142.30,421.40C138.28,422.53 132.92,424.03 130.20,424.80C127.48,425.57 128.05,425.55 126.00,426.00C123.95,426.45 120.20,427.05 117.90,427.50C115.60,427.95 114.12,428.12 112.20,428.70C110.28,429.28 108.33,430.05 106.40,431.00C104.47,431.95 102.53,432.97 100.60,434.40C98.67,435.83 96.72,437.77 94.80,439.60C92.88,441.43 91.02,443.47 89.10,445.40C87.18,447.33 85.23,449.47 83.30,451.20C81.37,452.93 79.42,454.65 77.50,455.80C75.58,456.95 73.58,457.62 71.80,458.10C70.02,458.58 69.18,458.70 66.80,458.70C64.42,458.70 59.82,458.58 57.50,458.10C55.18,457.62 54.43,457.15 52.90,455.80C51.37,454.45 49.65,451.93 48.30,450.00C46.95,448.07 45.77,446.90 44.80,444.20C43.83,441.50 43.27,437.45 42.50,433.80C41.73,430.15 40.87,425.85 40.20,422.30C39.53,418.75 38.78,414.13 38.50,412.50Z' fill='#c9321b'/>
<path d='M57.00,374.20C57.87,373.52 60.57,370.97 62.20,370.10C63.83,369.23 64.87,368.97 66.80,369.00C68.73,369.03 71.47,369.42 73.80,370.30C76.13,371.18 78.48,372.67 80.80,374.30C83.12,375.93 85.40,377.98 87.70,380.10C90.00,382.22 92.30,384.88 94.60,387.00C96.90,389.12 99.00,391.17 101.50,392.80C104.00,394.43 108.25,396.13 109.60,396.80L109.60,396.80C108.25,396.32 104.00,395.25 101.50,393.90C99.00,392.55 96.90,390.62 94.60,388.70C92.30,386.78 90.00,384.22 87.70,382.40C85.40,380.58 83.12,379.15 80.80,377.80C78.48,376.45 76.13,375.07 73.80,374.30C71.47,373.53 68.73,373.32 66.80,373.20C64.87,373.08 63.83,373.43 62.20,373.60C60.57,373.77 57.87,374.10 57.00,374.20Z' fill='#58a77c'/>
<path d='M57.00,381.70C57.87,381.02 60.57,378.57 62.20,377.60C63.83,376.63 64.87,376.03 66.80,375.90C68.73,375.77 71.47,376.20 73.80,376.80C76.13,377.40 78.48,378.28 80.80,379.50C83.12,380.72 85.40,382.47 87.70,384.10C90.00,385.73 92.30,387.57 94.60,389.30C96.90,391.03 98.80,393.05 101.50,394.50C104.20,395.95 109.25,397.42 110.80,398.00L110.80,398.00C109.25,397.62 104.20,396.67 101.50,395.70C98.80,394.73 96.90,393.45 94.60,392.20C92.30,390.95 90.00,389.45 87.70,388.20C85.40,386.95 83.12,385.63 80.80,384.70C78.48,383.77 76.13,383.02 73.80,382.60C71.47,382.18 68.73,382.27 66.80,382.20C64.87,382.13 63.83,382.28 62.20,382.20C60.57,382.12 57.87,381.78 57.00,381.70Z' fill='#a9c234'/>
<path d='M51.80,407.60C51.98,405.48 52.52,397.97 52.90,394.90C53.28,391.83 53.33,390.73 54.10,389.20C54.87,387.67 55.38,386.48 57.50,385.70C59.62,384.92 64.08,384.55 66.80,384.50C69.52,384.45 71.47,384.88 73.80,385.40C76.13,385.92 78.48,386.75 80.80,387.60C83.12,388.45 85.40,389.45 87.70,390.50C90.00,391.55 92.30,392.85 94.60,393.90C96.90,394.95 99.18,396.03 101.50,396.80C103.82,397.57 105.28,397.92 108.50,398.50C111.72,399.08 117.18,399.67 120.80,400.30C124.42,400.93 126.62,401.30 130.20,402.30C133.78,403.30 138.28,405.13 142.30,406.30C146.32,407.47 150.12,408.45 154.30,409.30C158.48,410.15 165.22,411.05 167.40,411.40L167.40,412.70C159.63,412.75 130.00,412.92 120.80,413.00C111.60,413.08 114.60,413.07 112.20,413.20C109.80,413.33 108.33,413.50 106.40,413.80C104.47,414.10 102.53,414.42 100.60,415.00C98.67,415.58 96.72,416.43 94.80,417.30C92.88,418.17 91.02,419.25 89.10,420.20C87.18,421.15 85.23,422.03 83.30,423.00C81.37,423.97 79.42,425.23 77.50,426.00C75.58,426.77 73.58,427.38 71.80,427.60C70.02,427.82 68.02,427.42 66.80,427.30C65.58,427.18 66.05,427.35 64.50,426.90C62.95,426.45 59.23,425.75 57.50,424.60C55.77,423.45 54.87,421.30 54.10,420.00C53.33,418.70 53.28,418.87 52.90,416.80C52.52,414.73 51.98,409.13 51.80,407.60Z' fill='#f1c70c'/>
<path d='M52.00,437.00C52.35,436.28 52.77,433.62 54.10,432.70C55.43,431.78 57.88,431.82 60.00,431.50C62.12,431.18 64.83,430.97 66.80,430.80C68.77,430.63 70.02,430.80 71.80,430.50C73.58,430.20 75.58,429.75 77.50,429.00C79.42,428.25 81.37,426.97 83.30,426.00C85.23,425.03 87.18,424.15 89.10,423.20C91.02,422.25 92.88,421.17 94.80,420.30C96.72,419.43 98.67,418.63 100.60,418.00C102.53,417.37 104.47,416.92 106.40,416.50C108.33,416.08 109.80,415.75 112.20,415.50C114.60,415.25 111.60,415.22 120.80,415.00C130.00,414.78 159.63,414.33 167.40,414.20L167.40,415.00C165.22,415.30 158.48,415.90 154.30,416.80C150.12,417.70 146.32,419.27 142.30,420.40C138.28,421.53 132.92,422.80 130.20,423.60C127.48,424.40 128.05,424.77 126.00,425.20C123.95,425.63 120.20,425.85 117.90,426.20C115.60,426.55 114.12,426.73 112.20,427.30C110.28,427.87 108.33,428.67 106.40,429.60C104.47,430.53 102.53,431.50 100.60,432.90C98.67,434.30 96.72,436.20 94.80,438.00C92.88,439.80 91.02,441.78 89.10,443.70C87.18,445.62 85.23,447.80 83.30,449.50C81.37,451.20 79.42,452.85 77.50,453.90C75.58,454.95 73.58,455.48 71.80,455.80C70.02,456.12 68.77,456.02 66.80,455.80C64.83,455.58 61.73,455.08 60.00,454.50C58.27,453.92 57.58,453.43 56.40,452.30C55.22,451.17 53.67,449.62 52.90,447.70C52.13,445.78 51.95,442.58 51.80,440.80C51.65,439.02 51.97,437.63 52.00,437.00Z' fill='#cf5b17'/>
<clipPath id='fc1'><path d='M20.60,412.50C21.18,411.68 22.95,409.95 24.10,407.60C25.25,405.25 26.35,402.25 27.50,398.40C28.65,394.55 29.83,389.50 31.00,384.50C32.17,379.50 33.35,373.40 34.50,368.40C35.65,363.40 36.95,357.58 37.90,354.50C38.85,351.42 39.23,351.08 40.20,349.90C41.17,348.72 41.97,347.88 43.70,347.40C45.43,346.92 46.75,347.07 50.60,347.00C54.45,346.93 63.50,346.95 66.80,347.00C70.10,347.05 69.03,346.98 70.40,347.30C71.77,347.62 73.47,348.05 75.00,348.90C76.53,349.75 78.07,350.85 79.60,352.40C81.13,353.95 82.67,356.08 84.20,358.20C85.73,360.32 87.25,362.80 88.80,365.10C90.35,367.40 91.95,369.70 93.50,372.00C95.05,374.30 96.57,376.98 98.10,378.90C99.63,380.82 100.97,382.15 102.70,383.50C104.43,384.85 106.58,386.13 108.50,387.00C110.42,387.87 112.15,388.23 114.20,388.70C116.25,389.17 118.13,389.03 120.80,389.80C123.47,390.57 126.62,391.72 130.20,393.30C133.78,394.88 138.28,397.47 142.30,399.30C146.32,401.13 150.12,403.07 154.30,404.30C158.48,405.53 165.22,406.30 167.40,406.70L167.40,419.00C165.22,419.40 158.48,420.00 154.30,421.40C150.12,422.80 146.32,425.55 142.30,427.40C138.28,429.25 132.92,431.37 130.20,432.50C127.48,433.63 128.05,433.63 126.00,434.20C123.95,434.77 120.20,435.28 117.90,435.90C115.60,436.52 114.12,436.90 112.20,437.90C110.28,438.90 108.33,440.27 106.40,441.90C104.47,443.53 102.53,445.58 100.60,447.70C98.67,449.82 96.72,452.10 94.80,454.60C92.88,457.10 91.02,460.20 89.10,462.70C87.18,465.20 85.23,467.68 83.30,469.60C81.37,471.52 79.42,472.95 77.50,474.20C75.58,475.45 73.72,476.33 71.80,477.10C69.88,477.87 69.53,478.55 66.00,478.80C62.47,479.05 54.32,478.78 50.60,478.60C46.88,478.42 45.43,478.43 43.70,477.70C41.97,476.97 41.17,475.93 40.20,474.20C39.23,472.47 38.67,469.98 37.90,467.30C37.13,464.62 36.37,461.18 35.60,458.10C34.83,455.02 34.27,452.65 33.30,448.80C32.33,444.95 30.95,439.03 29.80,435.00C28.65,430.97 27.55,427.68 26.40,424.60C25.25,421.52 23.87,418.52 22.90,416.50C21.93,414.48 20.98,413.17 20.60,412.50Z'/></clipPath>
<rect x='66.00' y='344.2' width='1.6' height='138.00' fill='#ffffff' opacity='0.12' clip-path='url(#fc1)'/>
<rect x='66.00' y='344.2' width='1.6' height='138.00' fill='#ffffff' opacity='0.07'/>
<rect x='120.00' y='344.2' width='1.6' height='138.00' fill='#ffffff' opacity='0.12' clip-path='url(#fc1)'/>
<rect x='120.00' y='344.2' width='1.6' height='138.00' fill='#ffffff' opacity='0.07'/>
<rect x='185.4' y='344.2' width='153.70' height='138.10' fill='url(#bg)'/>
<rect x='334.60' y='344.2' width='4.5' height='138.10' fill='#d98a33' opacity='0.45'/>
<path d='M192.00,415.40C192.42,414.67 193.63,412.73 194.50,411.00C195.37,409.27 196.37,408.17 197.20,405.00C198.03,401.83 198.78,395.42 199.50,392.00C200.22,388.58 200.55,386.67 201.50,384.50C202.45,382.33 204.00,381.17 205.20,379.00C206.40,376.83 207.53,374.67 208.70,371.50C209.87,368.33 211.05,363.27 212.20,360.00C213.35,356.73 214.45,353.53 215.60,351.90C216.75,350.27 217.37,350.55 219.10,350.20C220.83,349.85 223.80,349.87 226.00,349.80C228.20,349.73 230.80,349.70 232.30,349.80C233.80,349.90 233.27,349.98 235.00,350.40C236.73,350.82 240.13,351.15 242.70,352.30C245.27,353.45 247.83,355.32 250.40,357.30C252.97,359.28 255.53,361.77 258.10,364.20C260.67,366.63 263.23,369.47 265.80,371.90C268.37,374.33 271.45,376.87 273.50,378.80C275.55,380.73 276.38,381.85 278.10,383.50C279.82,385.15 281.88,387.17 283.80,388.70C285.72,390.23 287.67,391.55 289.60,392.70C291.53,393.85 293.50,394.72 295.40,395.60C297.30,396.48 298.90,397.35 301.00,398.00C303.10,398.65 305.67,398.92 308.00,399.50C310.33,400.08 312.50,400.33 315.00,401.50C317.50,402.67 320.37,405.02 323.00,406.50C325.63,407.98 328.20,409.57 330.80,410.40C333.40,411.23 337.30,411.32 338.60,411.50L338.60,420.40C337.30,420.65 333.38,420.93 330.80,421.90C328.22,422.87 325.67,424.85 323.10,426.20C320.53,427.55 317.97,429.07 315.40,430.00C312.83,430.93 310.07,431.45 307.70,431.80C305.33,432.15 303.25,431.77 301.20,432.10C299.15,432.43 297.33,433.03 295.40,433.80C293.47,434.57 291.53,435.53 289.60,436.70C287.67,437.87 285.72,439.35 283.80,440.80C281.88,442.25 280.02,443.67 278.10,445.40C276.18,447.13 274.23,449.18 272.30,451.20C270.37,453.22 268.42,455.40 266.50,457.50C264.58,459.60 262.63,461.47 260.80,463.80C258.97,466.13 257.27,469.27 255.50,471.50C253.73,473.73 252.42,475.87 250.20,477.20C247.98,478.53 245.18,478.92 242.20,479.50C239.22,480.08 235.20,480.60 232.30,480.70C229.40,480.80 227.20,480.40 224.80,480.10C222.40,479.80 219.82,479.87 217.90,478.90C215.98,477.93 214.65,476.42 213.30,474.30C211.95,472.18 210.95,469.28 209.80,466.20C208.65,463.12 207.55,458.48 206.40,455.80C205.25,453.12 204.05,453.55 202.90,450.10C201.75,446.65 200.65,439.78 199.50,435.10C198.35,430.42 196.92,424.68 196.00,422.00C195.08,419.32 194.67,420.10 194.00,419.00C193.33,417.90 192.33,416.00 192.00,415.40Z' fill='#888888'/>
<path d='M200.60,415.40C200.98,414.43 201.93,413.25 202.90,409.60C203.87,405.95 205.25,398.50 206.40,393.50C207.55,388.50 208.65,384.42 209.80,379.60C210.95,374.78 212.13,367.87 213.30,364.60C214.47,361.33 215.27,361.05 216.80,360.00C218.33,358.95 219.92,358.88 222.50,358.30C225.08,357.72 228.93,356.60 232.30,356.50C235.67,356.40 239.68,356.92 242.70,357.70C245.72,358.48 247.83,359.60 250.40,361.20C252.97,362.80 255.53,365.00 258.10,367.30C260.67,369.60 263.23,372.57 265.80,375.00C268.37,377.43 271.45,380.10 273.50,381.90C275.55,383.70 275.42,383.72 278.10,385.80C280.78,387.88 285.75,392.12 289.60,394.40C293.45,396.68 298.13,398.43 301.20,399.50C304.27,400.57 305.63,400.13 308.00,400.80C310.37,401.47 312.88,402.35 315.40,403.50C317.92,404.65 320.53,406.38 323.10,407.70C325.67,409.02 328.22,410.63 330.80,411.40C333.38,412.17 337.30,412.15 338.60,412.30L338.60,419.60C337.30,419.80 333.38,419.97 330.80,420.80C328.22,421.63 325.67,423.32 323.10,424.60C320.53,425.88 317.92,427.60 315.40,428.50C312.88,429.40 310.37,429.75 308.00,430.00C305.63,430.25 304.27,429.37 301.20,430.00C298.13,430.63 293.45,431.72 289.60,433.80C285.75,435.88 281.95,439.03 278.10,442.50C274.25,445.97 270.27,450.52 266.50,454.60C262.73,458.68 258.22,464.30 255.50,467.00C252.78,469.70 252.42,469.68 250.20,470.80C247.98,471.92 245.18,473.02 242.20,473.70C239.22,474.38 235.58,474.98 232.30,474.90C229.02,474.82 225.08,474.07 222.50,473.20C219.92,472.33 218.33,471.43 216.80,469.70C215.27,467.97 214.47,466.07 213.30,462.80C212.13,459.53 210.95,454.72 209.80,450.10C208.65,445.48 207.55,439.53 206.40,435.10C205.25,430.67 203.70,426.35 202.90,423.50C202.10,420.65 201.98,419.35 201.60,418.00C201.22,416.65 200.77,415.83 200.60,415.40Z' fill='#c9321b'/>
<path d='M205.50,416.50C205.83,415.08 206.87,410.75 207.50,408.00C208.13,405.25 208.72,402.80 209.30,400.00C209.88,397.20 210.13,395.57 211.00,391.20C211.87,386.83 213.15,378.03 214.50,373.80C215.85,369.57 217.38,367.52 219.10,365.80C220.82,364.08 222.60,364.08 224.80,363.50C227.00,362.92 229.32,362.18 232.30,362.30C235.28,362.42 239.68,363.37 242.70,364.20C245.72,365.03 247.83,365.88 250.40,367.30C252.97,368.72 255.53,370.78 258.10,372.70C260.67,374.62 263.23,376.62 265.80,378.80C268.37,380.98 271.45,383.97 273.50,385.80C275.55,387.63 275.42,387.78 278.10,389.80C280.78,391.82 285.75,395.78 289.60,397.90C293.45,400.02 298.13,401.57 301.20,402.50C304.27,403.43 305.70,403.08 308.00,403.50C310.30,403.92 312.50,404.08 315.00,405.00C317.50,405.92 320.33,407.80 323.00,409.00C325.67,410.20 328.40,411.50 331.00,412.20C333.60,412.90 337.33,413.03 338.60,413.20L338.60,418.80C337.30,419.00 333.38,419.47 330.80,420.00C328.22,420.53 325.67,421.33 323.10,422.00C320.53,422.67 317.97,423.42 315.40,424.00C312.83,424.58 310.27,425.17 307.70,425.50C305.13,425.83 303.02,425.38 300.00,426.00C296.98,426.62 293.25,427.53 289.60,429.20C285.95,430.87 281.95,433.03 278.10,436.00C274.25,438.97 270.35,443.25 266.50,447.00C262.65,450.75 257.72,455.68 255.00,458.50C252.28,461.32 252.33,462.62 250.20,463.90C248.07,465.18 245.18,465.62 242.20,466.20C239.22,466.78 235.58,467.58 232.30,467.40C229.02,467.22 225.08,466.25 222.50,465.10C219.92,463.95 218.33,463.00 216.80,460.50C215.27,458.00 214.62,454.33 213.30,450.10C211.98,445.87 210.12,439.53 208.90,435.10C207.68,430.67 206.57,426.60 206.00,423.50C205.43,420.40 205.58,417.67 205.50,416.50Z' fill='#cf5b17'/>
<path d='M222.00,376.20C222.67,375.13 224.28,371.45 226.00,369.80C227.72,368.15 230.80,366.78 232.30,366.30C233.80,365.82 233.27,366.73 235.00,366.90C236.73,367.07 240.13,366.72 242.70,367.30C245.27,367.88 247.83,369.12 250.40,370.40C252.97,371.68 255.53,373.20 258.10,375.00C260.67,376.80 263.23,379.08 265.80,381.20C268.37,383.32 271.45,385.98 273.50,387.70C275.55,389.42 275.42,389.62 278.10,391.50C280.78,393.38 285.75,396.97 289.60,399.00C293.45,401.03 298.13,402.60 301.20,403.70C304.27,404.80 305.70,405.13 308.00,405.60C310.30,406.07 312.48,405.77 315.00,406.50C317.52,407.23 319.83,408.92 323.10,410.00C326.37,411.08 332.68,412.50 334.60,413.00L334.60,413.00C332.68,412.70 326.37,412.03 323.10,411.20C319.83,410.37 317.52,408.65 315.00,408.00C312.48,407.35 310.30,407.77 308.00,407.30C305.70,406.83 304.27,406.28 301.20,405.20C298.13,404.12 293.45,402.80 289.60,400.80C285.75,398.80 280.78,395.17 278.10,393.20C275.42,391.23 275.55,390.75 273.50,389.00C271.45,387.25 268.37,384.72 265.80,382.70C263.23,380.68 260.67,378.63 258.10,376.90C255.53,375.17 252.97,373.53 250.40,372.30C247.83,371.07 245.27,370.08 242.70,369.50C240.13,368.92 236.73,368.93 235.00,368.80C233.27,368.67 233.80,368.33 232.30,368.70C230.80,369.07 227.72,369.75 226.00,371.00C224.28,372.25 222.67,375.33 222.00,376.20Z' fill='#30299a'/>
<path d='M220.80,384.80C221.67,383.27 224.08,377.72 226.00,375.60C227.92,373.48 230.80,372.65 232.30,372.10C233.80,371.55 233.27,372.20 235.00,372.30C236.73,372.40 240.13,372.18 242.70,372.70C245.27,373.22 247.83,374.25 250.40,375.40C252.97,376.55 255.53,378.07 258.10,379.60C260.67,381.13 263.23,382.80 265.80,384.60C268.37,386.40 271.45,388.75 273.50,390.40C275.55,392.05 275.42,392.62 278.10,394.50C280.78,396.38 285.75,399.78 289.60,401.70C293.45,403.62 298.13,404.98 301.20,406.00C304.27,407.02 305.70,407.40 308.00,407.80C310.30,408.20 312.50,407.80 315.00,408.40C317.50,409.00 320.00,410.60 323.00,411.40C326.00,412.20 331.33,412.90 333.00,413.20L333.00,413.40C331.33,413.17 326.00,412.57 323.00,412.00C320.00,411.43 317.50,410.42 315.00,410.00C312.50,409.58 310.30,409.88 308.00,409.50C305.70,409.12 304.27,408.58 301.20,407.70C298.13,406.82 293.45,406.02 289.60,404.20C285.75,402.38 280.78,398.72 278.10,396.80C275.42,394.88 275.55,394.22 273.50,392.70C271.45,391.18 268.37,389.23 265.80,387.70C263.23,386.17 260.67,384.78 258.10,383.50C255.53,382.22 252.97,380.98 250.40,380.00C247.83,379.02 245.27,378.05 242.70,377.60C240.13,377.15 236.73,377.35 235.00,377.30C233.27,377.25 233.80,376.92 232.30,377.30C230.80,377.68 227.92,378.35 226.00,379.60C224.08,380.85 221.67,383.93 220.80,384.80Z' fill='#4262ad'/>
<path d='M220.80,393.50C221.67,391.77 224.08,385.32 226.00,383.10C227.92,380.88 230.80,380.65 232.30,380.20C233.80,379.75 233.27,380.30 235.00,380.40C236.73,380.50 240.13,380.42 242.70,380.80C245.27,381.18 247.83,381.87 250.40,382.70C252.97,383.53 255.53,384.65 258.10,385.80C260.67,386.95 262.47,387.35 265.80,389.60C269.13,391.85 274.13,396.70 278.10,399.30C282.07,401.90 285.75,403.70 289.60,405.20C293.45,406.70 298.13,407.47 301.20,408.30C304.27,409.13 305.70,409.75 308.00,410.20C310.30,410.65 312.50,410.62 315.00,411.00C317.50,411.38 320.00,412.07 323.00,412.50C326.00,412.93 331.33,413.42 333.00,413.60L333.00,413.80C331.33,413.72 326.00,413.52 323.00,413.30C320.00,413.08 317.50,412.72 315.00,412.50C312.50,412.28 310.30,412.45 308.00,412.00C305.70,411.55 304.27,410.62 301.20,409.80C298.13,408.98 293.45,408.35 289.60,407.10C285.75,405.85 282.07,404.57 278.10,402.30C274.13,400.03 269.13,395.48 265.80,393.50C262.47,391.52 260.67,391.37 258.10,390.40C255.53,389.43 252.97,388.33 250.40,387.70C247.83,387.07 245.27,386.85 242.70,386.60C240.13,386.35 236.73,386.22 235.00,386.20C233.27,386.18 233.80,386.15 232.30,386.50C230.80,386.85 227.92,387.13 226.00,388.30C224.08,389.47 221.67,392.63 220.80,393.50Z' fill='#48a9c1'/>
<path d='M220.20,403.30C221.17,401.47 223.98,394.62 226.00,392.30C228.02,389.98 230.80,389.92 232.30,389.40C233.80,388.88 233.35,389.10 235.00,389.20C236.65,389.30 239.63,389.73 242.20,390.00C244.77,390.27 247.75,390.28 250.40,390.80C253.05,391.32 255.42,391.82 258.10,393.10C260.78,394.38 263.17,396.73 266.50,398.50C269.83,400.27 274.25,402.07 278.10,403.70C281.95,405.33 285.75,407.15 289.60,408.30C293.45,409.45 298.13,409.90 301.20,410.60C304.27,411.30 305.70,412.10 308.00,412.50C310.30,412.90 312.17,412.75 315.00,413.00C317.83,413.25 321.50,413.73 325.00,414.00C328.50,414.27 334.17,414.50 336.00,414.60L336.00,414.80C334.17,414.82 328.50,414.92 325.00,414.90C321.50,414.88 317.83,414.78 315.00,414.70C312.17,414.62 310.30,414.70 308.00,414.40C305.70,414.10 304.27,413.43 301.20,412.90C298.13,412.37 293.45,411.88 289.60,411.20C285.75,410.52 281.95,409.67 278.10,408.80C274.25,407.93 270.18,407.05 266.50,406.00C262.82,404.95 260.05,403.53 256.00,402.50C251.95,401.47 246.15,400.35 242.20,399.80C238.25,399.25 235.00,399.20 232.30,399.20C229.60,399.20 228.02,399.12 226.00,399.80C223.98,400.48 221.17,402.72 220.20,403.30Z' fill='#58a77c'/>
<path d='M217.30,416.50C217.60,415.73 217.85,413.82 219.10,411.90C220.35,409.98 222.60,406.43 224.80,405.00C227.00,403.57 229.40,403.58 232.30,403.30C235.20,403.02 238.25,403.13 242.20,403.30C246.15,403.47 251.95,403.57 256.00,404.30C260.05,405.03 262.82,406.72 266.50,407.70C270.18,408.68 274.25,409.43 278.10,410.20C281.95,410.97 285.78,411.50 289.60,412.30C293.42,413.10 297.93,414.48 301.00,415.00C304.07,415.52 305.60,415.27 308.00,415.40C310.40,415.53 312.88,415.67 315.40,415.80C317.92,415.93 320.53,416.03 323.10,416.20C325.67,416.37 328.32,416.63 330.80,416.80C333.28,416.97 336.80,417.13 338.00,417.20L338.00,417.40C336.80,417.40 333.28,417.35 330.80,417.40C328.32,417.45 325.67,417.52 323.10,417.70C320.53,417.88 317.97,418.28 315.40,418.50C312.83,418.72 310.10,418.98 307.70,419.00C305.30,419.02 304.02,418.63 301.00,418.60C297.98,418.57 293.42,418.37 289.60,418.80C285.78,419.23 281.95,420.33 278.10,421.20C274.25,422.07 270.35,423.07 266.50,424.00C262.65,424.93 259.05,426.10 255.00,426.80C250.95,427.50 245.98,427.97 242.20,428.20C238.42,428.43 235.58,428.40 232.30,428.20C229.02,428.00 224.90,427.97 222.50,427.00C220.10,426.03 218.73,423.57 217.90,422.40C217.07,421.23 217.60,420.98 217.50,420.00C217.40,419.02 217.33,417.08 217.30,416.50Z' fill='#a9c234'/>
<path d='M217.00,440.00C217.25,439.08 217.20,435.62 218.50,434.50C219.80,433.38 222.50,433.58 224.80,433.30C227.10,433.02 229.40,432.98 232.30,432.80C235.20,432.62 238.42,432.70 242.20,432.20C245.98,431.70 250.95,430.78 255.00,429.80C259.05,428.82 262.65,427.27 266.50,426.30C270.35,425.33 274.25,424.70 278.10,424.00C281.95,423.30 285.95,422.68 289.60,422.10C293.25,421.52 296.98,420.75 300.00,420.50C303.02,420.25 305.13,420.65 307.70,420.60C310.27,420.55 312.83,420.42 315.40,420.20C317.97,419.98 320.53,419.57 323.10,419.30C325.67,419.03 328.32,418.78 330.80,418.60C333.28,418.42 336.80,418.27 338.00,418.20L338.00,418.60C336.80,418.77 333.28,419.12 330.80,419.60C328.32,420.08 325.67,420.85 323.10,421.50C320.53,422.15 317.97,422.92 315.40,423.50C312.83,424.08 310.27,424.65 307.70,425.00C305.13,425.35 303.02,424.98 300.00,425.60C296.98,426.22 293.25,427.03 289.60,428.70C285.95,430.37 281.95,432.63 278.10,435.60C274.25,438.57 270.35,442.85 266.50,446.50C262.65,450.15 257.72,455.17 255.00,457.50C252.28,459.83 252.33,459.62 250.20,460.50C248.07,461.38 245.18,462.13 242.20,462.80C239.22,463.47 234.80,464.50 232.30,464.50C229.80,464.50 228.63,463.85 227.20,462.80C225.77,461.75 225.05,459.75 223.70,458.20C222.35,456.65 220.25,455.43 219.10,453.50C217.95,451.57 217.15,448.85 216.80,446.60C216.45,444.35 216.97,441.10 217.00,440.00Z' fill='#f1c70c'/>
<clipPath id='fc2'><path d='M192.00,415.40C192.42,414.67 193.63,412.73 194.50,411.00C195.37,409.27 196.37,408.17 197.20,405.00C198.03,401.83 198.78,395.42 199.50,392.00C200.22,388.58 200.55,386.67 201.50,384.50C202.45,382.33 204.00,381.17 205.20,379.00C206.40,376.83 207.53,374.67 208.70,371.50C209.87,368.33 211.05,363.27 212.20,360.00C213.35,356.73 214.45,353.53 215.60,351.90C216.75,350.27 217.37,350.55 219.10,350.20C220.83,349.85 223.80,349.87 226.00,349.80C228.20,349.73 230.80,349.70 232.30,349.80C233.80,349.90 233.27,349.98 235.00,350.40C236.73,350.82 240.13,351.15 242.70,352.30C245.27,353.45 247.83,355.32 250.40,357.30C252.97,359.28 255.53,361.77 258.10,364.20C260.67,366.63 263.23,369.47 265.80,371.90C268.37,374.33 271.45,376.87 273.50,378.80C275.55,380.73 276.38,381.85 278.10,383.50C279.82,385.15 281.88,387.17 283.80,388.70C285.72,390.23 287.67,391.55 289.60,392.70C291.53,393.85 293.50,394.72 295.40,395.60C297.30,396.48 298.90,397.35 301.00,398.00C303.10,398.65 305.67,398.92 308.00,399.50C310.33,400.08 312.50,400.33 315.00,401.50C317.50,402.67 320.37,405.02 323.00,406.50C325.63,407.98 328.20,409.57 330.80,410.40C333.40,411.23 337.30,411.32 338.60,411.50L338.60,420.40C337.30,420.65 333.38,420.93 330.80,421.90C328.22,422.87 325.67,424.85 323.10,426.20C320.53,427.55 317.97,429.07 315.40,430.00C312.83,430.93 310.07,431.45 307.70,431.80C305.33,432.15 303.25,431.77 301.20,432.10C299.15,432.43 297.33,433.03 295.40,433.80C293.47,434.57 291.53,435.53 289.60,436.70C287.67,437.87 285.72,439.35 283.80,440.80C281.88,442.25 280.02,443.67 278.10,445.40C276.18,447.13 274.23,449.18 272.30,451.20C270.37,453.22 268.42,455.40 266.50,457.50C264.58,459.60 262.63,461.47 260.80,463.80C258.97,466.13 257.27,469.27 255.50,471.50C253.73,473.73 252.42,475.87 250.20,477.20C247.98,478.53 245.18,478.92 242.20,479.50C239.22,480.08 235.20,480.60 232.30,480.70C229.40,480.80 227.20,480.40 224.80,480.10C222.40,479.80 219.82,479.87 217.90,478.90C215.98,477.93 214.65,476.42 213.30,474.30C211.95,472.18 210.95,469.28 209.80,466.20C208.65,463.12 207.55,458.48 206.40,455.80C205.25,453.12 204.05,453.55 202.90,450.10C201.75,446.65 200.65,439.78 199.50,435.10C198.35,430.42 196.92,424.68 196.00,422.00C195.08,419.32 194.67,420.10 194.00,419.00C193.33,417.90 192.33,416.00 192.00,415.40Z'/></clipPath>
<rect x='231.50' y='344.2' width='1.6' height='138.10' fill='#ffffff' opacity='0.12' clip-path='url(#fc2)'/>
<rect x='231.50' y='344.2' width='1.6' height='138.10' fill='#ffffff' opacity='0.07'/>
<rect x='307.30' y='344.2' width='1.6' height='138.10' fill='#ffffff' opacity='0.12' clip-path='url(#fc2)'/>
<rect x='307.30' y='344.2' width='1.6' height='138.10' fill='#ffffff' opacity='0.07'/>
<rect x='354.2' y='344.4' width='153.70' height='138.20' fill='url(#bg)'/>
<rect x='503.40' y='344.4' width='4.5' height='138.20' fill='#d98a33' opacity='0.45'/>
<path d='M361.00,415.50C361.67,415.28 363.50,414.65 365.00,414.20C366.50,413.75 368.20,413.33 370.00,412.80C371.80,412.27 373.88,411.48 375.80,411.00C377.72,410.52 379.58,410.37 381.50,409.90C383.42,409.43 385.37,409.27 387.30,408.20C389.23,407.13 391.18,405.43 393.10,403.50C395.02,401.57 396.88,399.10 398.80,396.60C400.72,394.10 402.67,391.38 404.60,388.50C406.53,385.62 408.47,381.88 410.40,379.30C412.33,376.72 414.28,374.63 416.20,373.00C418.12,371.37 420.32,370.18 421.90,369.50C423.48,368.82 424.35,368.95 425.70,368.90C427.05,368.85 427.95,368.65 430.00,369.20C432.05,369.75 434.98,370.70 438.00,372.20C441.02,373.70 444.73,375.87 448.10,378.20C451.47,380.53 454.85,383.35 458.20,386.20C461.55,389.05 464.85,392.45 468.20,395.30C471.55,398.15 474.95,401.13 478.30,403.30C481.65,405.47 484.95,407.02 488.30,408.30C491.65,409.58 495.22,410.38 498.40,411.00C501.58,411.62 505.90,411.83 507.40,412.00L507.40,419.00C505.90,419.17 501.58,419.43 498.40,420.00C495.22,420.57 491.65,421.17 488.30,422.40C484.95,423.63 481.65,425.38 478.30,427.40C474.95,429.42 471.55,431.82 468.20,434.50C464.85,437.18 461.55,440.48 458.20,443.50C454.85,446.52 451.47,449.92 448.10,452.60C444.73,455.28 441.02,458.07 438.00,459.60C434.98,461.13 432.05,461.37 430.00,461.80C427.95,462.23 427.05,462.23 425.70,462.20C424.35,462.17 423.48,462.27 421.90,461.60C420.32,460.93 418.12,459.93 416.20,458.20C414.28,456.47 412.33,454.10 410.40,451.20C408.47,448.30 406.53,444.07 404.60,440.80C402.67,437.53 400.72,434.28 398.80,431.60C396.88,428.92 395.02,426.43 393.10,424.70C391.18,422.97 389.23,422.17 387.30,421.20C385.37,420.23 383.42,419.47 381.50,418.90C379.58,418.33 377.72,418.18 375.80,417.80C373.88,417.42 371.80,416.90 370.00,416.60C368.20,416.30 366.50,416.18 365.00,416.00C363.50,415.82 361.67,415.58 361.00,415.50Z' fill='#888888'/>
<path d='M380.40,415.30C380.78,414.78 381.55,412.92 382.70,412.20C383.85,411.48 385.57,411.58 387.30,411.00C389.03,410.42 391.18,409.75 393.10,408.70C395.02,407.65 396.88,406.33 398.80,404.70C400.72,403.07 402.67,401.02 404.60,398.90C406.53,396.78 408.47,394.02 410.40,392.00C412.33,389.98 414.28,388.05 416.20,386.80C418.12,385.55 420.32,384.98 421.90,384.50C423.48,384.02 424.35,383.95 425.70,383.90C427.05,383.85 426.27,383.13 430.00,384.20C433.73,385.27 441.73,387.45 448.10,390.30C454.47,393.15 461.50,397.95 468.20,401.30C474.90,404.65 481.77,408.38 488.30,410.40C494.83,412.42 504.22,412.90 507.40,413.40L507.40,418.40C504.22,418.83 494.83,419.17 488.30,421.00C481.77,422.83 474.90,425.98 468.20,429.40C461.50,432.82 454.47,438.63 448.10,441.50C441.73,444.37 433.73,445.72 430.00,446.60C426.27,447.48 427.05,446.83 425.70,446.80C424.35,446.77 423.48,446.82 421.90,446.40C420.32,445.98 418.12,445.32 416.20,444.30C414.28,443.28 412.33,441.83 410.40,440.30C408.47,438.77 406.53,436.93 404.60,435.10C402.67,433.27 400.72,431.13 398.80,429.30C396.88,427.47 395.02,425.63 393.10,424.10C391.18,422.57 388.85,421.07 387.30,420.10C385.75,419.13 384.95,419.10 383.80,418.30C382.65,417.50 380.97,415.80 380.40,415.30Z' fill='#c9321b'/>
<path d='M381.30,415.30C381.53,414.88 381.70,413.05 382.70,412.80C383.70,412.55 385.57,414.02 387.30,413.80C389.03,413.58 391.18,412.55 393.10,411.50C395.02,410.45 396.88,409.13 398.80,407.50C400.72,405.87 402.67,403.82 404.60,401.70C406.53,399.58 408.47,396.82 410.40,394.80C412.33,392.78 414.28,390.85 416.20,389.60C418.12,388.35 420.32,387.78 421.90,387.30C423.48,386.82 424.35,386.75 425.70,386.70C427.05,386.65 426.27,385.93 430.00,387.00C433.73,388.07 441.73,390.25 448.10,393.10C454.47,395.95 461.50,400.86 468.20,404.10C474.90,407.34 481.77,410.88 488.30,412.53C494.83,414.18 504.22,413.76 507.40,414.00L507.40,417.80C504.22,417.98 494.83,417.40 488.30,418.87C481.77,420.33 474.90,423.29 468.20,426.60C461.50,429.91 454.47,435.83 448.10,438.70C441.73,441.57 433.73,442.92 430.00,443.80C426.27,444.68 427.05,444.03 425.70,444.00C424.35,443.97 423.48,444.02 421.90,443.60C420.32,443.18 418.12,442.52 416.20,441.50C414.28,440.48 412.33,439.03 410.40,437.50C408.47,435.97 406.53,434.13 404.60,432.30C402.67,430.47 400.72,428.33 398.80,426.50C396.88,424.67 395.02,422.83 393.10,421.30C391.18,419.77 388.85,417.90 387.30,417.30C385.75,416.70 384.80,418.03 383.80,417.70C382.80,417.37 381.72,415.70 381.30,415.30Z' fill='#f1c70c'/>
<path d='M382.00,415.30C382.50,415.07 383.15,414.62 385.00,413.90C386.85,413.18 389.83,412.92 393.10,411.00C396.37,409.08 400.75,405.77 404.60,402.40C408.45,399.03 412.68,393.02 416.20,390.80C419.72,388.58 423.40,389.35 425.70,389.10C428.00,388.85 426.27,388.43 430.00,389.30C433.73,390.17 441.73,391.85 448.10,394.30C454.47,396.75 461.50,401.08 468.20,404.00C474.90,406.92 481.77,410.13 488.30,411.80C494.83,413.47 504.22,413.63 507.40,414.00L507.40,417.80C504.22,418.13 494.83,418.20 488.30,419.80C481.77,421.40 474.90,424.45 468.20,427.40C461.50,430.35 454.47,434.97 448.10,437.50C441.73,440.03 433.73,441.75 430.00,442.60C426.27,443.45 428.00,442.98 425.70,442.60C423.40,442.22 419.72,442.03 416.20,440.30C412.68,438.57 408.45,435.18 404.60,432.20C400.75,429.22 396.37,424.93 393.10,422.40C389.83,419.87 386.85,418.18 385.00,417.00C383.15,415.82 382.50,415.58 382.00,415.30Z' fill='#a9c234'/>
<path d='M383.50,415.40C384.08,415.33 385.40,415.43 387.00,415.00C388.60,414.57 390.17,414.03 393.10,412.80C396.03,411.57 400.75,409.05 404.60,407.60C408.45,406.15 412.68,404.87 416.20,404.10C419.72,403.33 423.40,403.15 425.70,403.00C428.00,402.85 426.27,402.65 430.00,403.20C433.73,403.75 441.73,405.17 448.10,406.30C454.47,407.43 461.50,408.82 468.20,410.00C474.90,411.18 481.77,412.60 488.30,413.40C494.83,414.20 504.22,414.57 507.40,414.80L507.40,417.60C504.22,417.80 494.83,417.93 488.30,418.80C481.77,419.67 474.90,421.47 468.20,422.80C461.50,424.13 454.47,425.87 448.10,426.80C441.73,427.73 433.73,428.17 430.00,428.40C426.27,428.63 428.00,428.53 425.70,428.20C423.40,427.87 419.72,427.37 416.20,426.40C412.68,425.43 408.45,423.83 404.60,422.40C400.75,420.97 395.98,418.87 393.10,417.80C390.22,416.73 388.90,416.40 387.30,416.00C385.70,415.60 384.13,415.50 383.50,415.40Z' fill='#58a77c'/>
<path d='M503.00,412.30 L507.40,411.90 L507.40,413.50Z' fill='#4262ad'/>
<clipPath id='fc3'><path d='M361.00,415.50C361.67,415.28 363.50,414.65 365.00,414.20C366.50,413.75 368.20,413.33 370.00,412.80C371.80,412.27 373.88,411.48 375.80,411.00C377.72,410.52 379.58,410.37 381.50,409.90C383.42,409.43 385.37,409.27 387.30,408.20C389.23,407.13 391.18,405.43 393.10,403.50C395.02,401.57 396.88,399.10 398.80,396.60C400.72,394.10 402.67,391.38 404.60,388.50C406.53,385.62 408.47,381.88 410.40,379.30C412.33,376.72 414.28,374.63 416.20,373.00C418.12,371.37 420.32,370.18 421.90,369.50C423.48,368.82 424.35,368.95 425.70,368.90C427.05,368.85 427.95,368.65 430.00,369.20C432.05,369.75 434.98,370.70 438.00,372.20C441.02,373.70 444.73,375.87 448.10,378.20C451.47,380.53 454.85,383.35 458.20,386.20C461.55,389.05 464.85,392.45 468.20,395.30C471.55,398.15 474.95,401.13 478.30,403.30C481.65,405.47 484.95,407.02 488.30,408.30C491.65,409.58 495.22,410.38 498.40,411.00C501.58,411.62 505.90,411.83 507.40,412.00L507.40,419.00C505.90,419.17 501.58,419.43 498.40,420.00C495.22,420.57 491.65,421.17 488.30,422.40C484.95,423.63 481.65,425.38 478.30,427.40C474.95,429.42 471.55,431.82 468.20,434.50C464.85,437.18 461.55,440.48 458.20,443.50C454.85,446.52 451.47,449.92 448.10,452.60C444.73,455.28 441.02,458.07 438.00,459.60C434.98,461.13 432.05,461.37 430.00,461.80C427.95,462.23 427.05,462.23 425.70,462.20C424.35,462.17 423.48,462.27 421.90,461.60C420.32,460.93 418.12,459.93 416.20,458.20C414.28,456.47 412.33,454.10 410.40,451.20C408.47,448.30 406.53,444.07 404.60,440.80C402.67,437.53 400.72,434.28 398.80,431.60C396.88,428.92 395.02,426.43 393.10,424.70C391.18,422.97 389.23,422.17 387.30,421.20C385.37,420.23 383.42,419.47 381.50,418.90C379.58,418.33 377.72,418.18 375.80,417.80C373.88,417.42 371.80,416.90 370.00,416.60C368.20,416.30 366.50,416.18 365.00,416.00C363.50,415.82 361.67,415.58 361.00,415.50Z'/></clipPath>
<rect x='425.10' y='344.4' width='1.6' height='138.20' fill='#ffffff' opacity='0.12' clip-path='url(#fc3)'/>
<rect x='425.10' y='344.4' width='1.6' height='138.20' fill='#ffffff' opacity='0.07'/>
<rect x='15.8' y='556.2' width='153.80' height='137.60' fill='url(#bg)'/>
<rect x='165.10' y='556.2' width='4.5' height='137.60' fill='#d98a33' opacity='0.45'/>
<rect x='162.0' y='556.2' width='7.60' height='137.60' fill='#d98730' opacity='0.4'/>
<path d='M22.30,627.20C22.78,626.30 24.13,624.43 25.20,621.80C26.27,619.17 27.53,615.45 28.70,611.40C29.87,607.35 31.05,602.32 32.20,597.50C33.35,592.68 34.45,586.92 35.60,582.50C36.75,578.08 37.95,574.17 39.10,571.00C40.25,567.83 41.35,565.13 42.50,563.50C43.65,561.87 44.65,561.58 46.00,561.20C47.35,560.82 48.87,560.92 50.60,561.20C52.33,561.48 54.47,562.13 56.40,562.90C58.33,563.67 60.28,564.73 62.20,565.80C64.12,566.87 65.60,567.85 67.90,569.30C70.20,570.75 73.50,572.52 76.00,574.50C78.50,576.48 80.58,579.03 82.90,581.20C85.22,583.37 87.58,585.30 89.90,587.50C92.22,589.70 94.50,592.22 96.80,594.40C99.10,596.58 101.40,598.63 103.70,600.60C106.00,602.57 108.28,604.58 110.60,606.20C112.92,607.82 115.28,609.03 117.60,610.30C119.92,611.57 122.20,612.80 124.50,613.80C126.80,614.80 128.77,615.27 131.40,616.30C134.03,617.33 137.15,618.95 140.30,620.00C143.45,621.05 146.78,621.53 150.30,622.60C153.82,623.67 159.55,625.77 161.40,626.40L161.40,628.00C159.55,628.57 153.82,630.23 150.30,631.40C146.78,632.57 143.45,633.90 140.30,635.00C137.15,636.10 134.03,637.17 131.40,638.00C128.77,638.83 126.80,639.18 124.50,640.00C122.20,640.82 119.92,641.73 117.60,642.90C115.28,644.07 112.92,645.50 110.60,647.00C108.28,648.50 106.00,650.23 103.70,651.90C101.40,653.57 99.10,654.90 96.80,657.00C94.50,659.10 92.20,661.67 89.90,664.50C87.60,667.33 85.32,670.83 83.00,674.00C80.68,677.17 78.13,681.45 76.00,683.50C73.87,685.55 72.50,685.35 70.20,686.30C67.90,687.25 65.08,688.37 62.20,689.20C59.32,690.03 55.60,690.92 52.90,691.30C50.20,691.68 47.73,692.03 46.00,691.50C44.27,690.97 43.65,690.22 42.50,688.10C41.35,685.98 40.25,682.45 39.10,678.80C37.95,675.15 36.75,670.42 35.60,666.20C34.45,661.98 33.35,657.73 32.20,653.50C31.05,649.27 29.87,644.47 28.70,640.80C27.53,637.13 26.27,633.77 25.20,631.50C24.13,629.23 22.78,627.92 22.30,627.20Z' fill='#888888'/>
<path d='M40.20,626.90C40.30,626.62 40.32,627.40 40.80,625.20C41.28,623.00 42.62,617.15 43.10,613.70C43.58,610.25 43.22,606.42 43.70,604.50C44.18,602.58 43.88,602.50 46.00,602.20C48.12,601.90 52.75,602.32 56.40,602.70C60.05,603.08 64.63,603.78 67.90,604.50C71.17,605.22 72.33,605.68 76.00,607.00C79.67,608.32 85.28,610.58 89.90,612.40C94.52,614.22 99.08,616.17 103.70,617.90C108.32,619.63 112.98,621.40 117.60,622.80C122.22,624.20 126.83,625.53 131.40,626.30C135.97,627.07 140.00,627.20 145.00,627.40C150.00,627.60 158.67,627.48 161.40,627.50L161.40,628.20C158.67,628.42 150.00,629.02 145.00,629.50C140.00,629.98 135.97,630.37 131.40,631.10C126.83,631.83 122.22,632.75 117.60,633.90C112.98,635.05 108.32,636.50 103.70,638.00C99.08,639.50 94.52,641.37 89.90,642.90C85.28,644.43 79.67,646.30 76.00,647.20C72.33,648.10 71.17,647.80 67.90,648.30C64.63,648.80 60.05,649.63 56.40,650.20C52.75,650.77 47.83,651.53 46.00,651.70C44.17,651.87 45.78,652.25 45.40,651.20C45.02,650.15 44.27,648.10 43.70,645.40C43.13,642.70 42.58,638.08 42.00,635.00C41.42,631.92 40.50,628.25 40.20,626.90Z' fill='#c9321b'/>
<path d='M43.10,617.20C43.30,616.03 43.82,611.55 44.30,610.20C44.78,608.85 43.98,609.18 46.00,609.10C48.02,609.02 52.75,609.35 56.40,609.70C60.05,610.05 64.63,610.62 67.90,611.20C71.17,611.78 72.33,612.20 76.00,613.20C79.67,614.20 85.28,615.83 89.90,617.20C94.52,618.57 99.08,620.12 103.70,621.40C108.32,622.68 112.98,623.95 117.60,624.90C122.22,625.85 126.83,626.65 131.40,627.10C135.97,627.55 140.00,627.50 145.00,627.60C150.00,627.70 158.67,627.68 161.40,627.70L161.40,627.80C158.67,627.83 150.00,627.93 145.00,628.00C140.00,628.07 138.28,628.30 131.40,628.20C124.52,628.10 112.93,627.87 103.70,627.40C94.47,626.93 83.88,625.83 76.00,625.40C68.12,624.97 61.40,624.93 56.40,624.80C51.40,624.67 47.93,624.92 46.00,624.60C44.07,624.28 45.28,624.13 44.80,622.90C44.32,621.67 43.38,618.15 43.10,617.20Z' fill='#f1c70c'/>
<path d='M42.50,637.30C42.70,636.63 43.12,634.10 43.70,633.30C44.28,632.50 43.88,632.62 46.00,632.50C48.12,632.38 51.40,632.72 56.40,632.60C61.40,632.48 68.12,632.22 76.00,631.80C83.88,631.38 94.47,630.52 103.70,630.10C112.93,629.68 121.78,629.65 131.40,629.30C141.02,628.95 156.40,628.22 161.40,628.00L161.40,628.10C156.40,628.43 138.70,629.48 131.40,630.10C124.10,630.72 122.22,631.05 117.60,631.80C112.98,632.55 108.32,633.57 103.70,634.60C99.08,635.63 94.52,636.88 89.90,638.00C85.28,639.12 79.67,640.45 76.00,641.30C72.33,642.15 71.17,642.62 67.90,643.10C64.63,643.58 60.05,643.92 56.40,644.20C52.75,644.48 48.12,645.18 46.00,644.80C43.88,644.42 44.28,643.15 43.70,641.90C43.12,640.65 42.70,638.07 42.50,637.30Z' fill='#cf5b17'/>
<path d='M161.00,628.40 L169.40,639.50 L169.40,641.20 L165.50,636.50Z' fill='#888888'/>
<path d='M161.00,628.00 L165.00,631.50 L169.40,634.50 L169.40,639.70 L166.00,635.60 L161.00,628.40Z' fill='#cf5b17'/>
<path d='M160.80,627.60 L165.00,630.40 L169.40,633.20 L169.40,634.70 L165.00,631.60 L161.00,628.20Z' fill='#c9321b'/>
<path d='M161.00,627.40 L169.40,630.30 L169.40,633.40 L165.00,630.50Z' fill='#a9c234'/>
<path d='M160.60,627.00 L169.40,624.80 L169.40,630.60 L161.00,627.60Z' fill='#58a77c'/>
<path d='M160.4,626.8C163,623 165,617 169.4,613.4L169.4,625L160.6,627.2Z' fill='#48a9c1'/>
<clipPath id='fc4'><path d='M22.30,627.20C22.78,626.30 24.13,624.43 25.20,621.80C26.27,619.17 27.53,615.45 28.70,611.40C29.87,607.35 31.05,602.32 32.20,597.50C33.35,592.68 34.45,586.92 35.60,582.50C36.75,578.08 37.95,574.17 39.10,571.00C40.25,567.83 41.35,565.13 42.50,563.50C43.65,561.87 44.65,561.58 46.00,561.20C47.35,560.82 48.87,560.92 50.60,561.20C52.33,561.48 54.47,562.13 56.40,562.90C58.33,563.67 60.28,564.73 62.20,565.80C64.12,566.87 65.60,567.85 67.90,569.30C70.20,570.75 73.50,572.52 76.00,574.50C78.50,576.48 80.58,579.03 82.90,581.20C85.22,583.37 87.58,585.30 89.90,587.50C92.22,589.70 94.50,592.22 96.80,594.40C99.10,596.58 101.40,598.63 103.70,600.60C106.00,602.57 108.28,604.58 110.60,606.20C112.92,607.82 115.28,609.03 117.60,610.30C119.92,611.57 122.20,612.80 124.50,613.80C126.80,614.80 128.77,615.27 131.40,616.30C134.03,617.33 137.15,618.95 140.30,620.00C143.45,621.05 146.78,621.53 150.30,622.60C153.82,623.67 159.55,625.77 161.40,626.40L161.40,628.00C159.55,628.57 153.82,630.23 150.30,631.40C146.78,632.57 143.45,633.90 140.30,635.00C137.15,636.10 134.03,637.17 131.40,638.00C128.77,638.83 126.80,639.18 124.50,640.00C122.20,640.82 119.92,641.73 117.60,642.90C115.28,644.07 112.92,645.50 110.60,647.00C108.28,648.50 106.00,650.23 103.70,651.90C101.40,653.57 99.10,654.90 96.80,657.00C94.50,659.10 92.20,661.67 89.90,664.50C87.60,667.33 85.32,670.83 83.00,674.00C80.68,677.17 78.13,681.45 76.00,683.50C73.87,685.55 72.50,685.35 70.20,686.30C67.90,687.25 65.08,688.37 62.20,689.20C59.32,690.03 55.60,690.92 52.90,691.30C50.20,691.68 47.73,692.03 46.00,691.50C44.27,690.97 43.65,690.22 42.50,688.10C41.35,685.98 40.25,682.45 39.10,678.80C37.95,675.15 36.75,670.42 35.60,666.20C34.45,661.98 33.35,657.73 32.20,653.50C31.05,649.27 29.87,644.47 28.70,640.80C27.53,637.13 26.27,633.77 25.20,631.50C24.13,629.23 22.78,627.92 22.30,627.20Z'/></clipPath>
<rect x='45.00' y='556.2' width='1.6' height='137.60' fill='#ffffff' opacity='0.12' clip-path='url(#fc4)'/>
<rect x='45.00' y='556.2' width='1.6' height='137.60' fill='#ffffff' opacity='0.07'/>
<rect x='160.20' y='556.2' width='1.6' height='137.60' fill='#ffffff' opacity='0.12' clip-path='url(#fc4)'/>
<rect x='160.20' y='556.2' width='1.6' height='137.60' fill='#ffffff' opacity='0.07'/>
<rect x='199.9' y='556.2' width='153.40' height='137.50' fill='url(#bg)'/>
<rect x='348.80' y='556.2' width='4.5' height='137.50' fill='#d98a33' opacity='0.45'/>
<path d='M206.90,626.30C207.83,625.67 210.53,623.97 212.50,622.50C214.47,621.03 216.67,618.85 218.75,617.50C220.83,616.15 222.92,615.23 225.00,614.40C227.08,613.57 229.38,613.44 231.25,612.50C233.12,611.56 234.58,610.42 236.25,608.75C237.92,607.08 240.00,604.21 241.25,602.50C242.50,600.79 242.29,601.25 243.75,598.50C245.21,595.75 247.92,589.96 250.00,586.00C252.08,582.04 254.17,578.08 256.25,574.75C258.33,571.42 260.62,568.19 262.50,566.00C264.38,563.81 266.04,562.43 267.50,561.60C268.96,560.77 269.58,561.00 271.25,561.00C272.92,561.00 275.42,561.08 277.50,561.60C279.58,562.12 281.67,562.95 283.75,564.10C285.83,565.25 287.29,566.68 290.00,568.50C292.71,570.32 296.88,572.67 300.00,575.00C303.12,577.33 306.25,580.21 308.75,582.50C311.25,584.79 312.92,586.67 315.00,588.75C317.08,590.83 319.17,592.92 321.25,595.00C323.33,597.08 325.42,599.48 327.50,601.25C329.58,603.02 331.67,604.24 333.75,605.60C335.83,606.96 337.92,608.35 340.00,609.40C342.08,610.45 344.05,611.28 346.25,611.90C348.45,612.52 352.04,612.90 353.20,613.10L353.20,639.80C352.15,639.90 348.90,640.02 346.90,640.40C344.90,640.78 343.12,641.43 341.20,642.10C339.28,642.77 337.33,643.43 335.40,644.40C333.47,645.37 331.53,646.55 329.60,647.90C327.67,649.25 325.72,650.77 323.80,652.50C321.88,654.23 320.02,656.28 318.10,658.30C316.18,660.32 314.23,662.58 312.30,664.60C310.37,666.62 308.42,668.58 306.50,670.40C304.58,672.22 302.72,673.90 300.80,675.50C298.88,677.10 296.80,678.73 295.00,680.00C293.20,681.27 291.88,681.85 290.00,683.10C288.12,684.35 285.83,686.25 283.75,687.50C281.67,688.75 279.58,689.98 277.50,690.60C275.42,691.23 273.33,691.77 271.25,691.25C269.17,690.73 267.08,689.38 265.00,687.50C262.92,685.62 260.83,682.92 258.75,680.00C256.67,677.08 254.29,673.17 252.50,670.00C250.71,666.83 249.46,664.00 248.00,661.00C246.54,658.00 245.50,654.67 243.75,652.00C242.00,649.33 239.58,647.04 237.50,645.00C235.42,642.96 233.33,641.00 231.25,639.75C229.17,638.50 227.08,638.39 225.00,637.50C222.92,636.61 220.83,635.65 218.75,634.40C216.67,633.15 214.47,631.35 212.50,630.00C210.53,628.65 207.83,626.92 206.90,626.30Z' fill='#888888'/>
<path d='M225.00,626.30C225.62,625.35 227.29,621.86 228.75,620.60C230.21,619.34 232.08,619.68 233.75,618.75C235.42,617.82 237.08,616.46 238.75,615.00C240.42,613.54 242.08,611.88 243.75,610.00C245.42,608.12 246.67,606.50 248.75,603.75C250.83,601.00 253.96,596.46 256.25,593.50C258.54,590.54 260.62,587.77 262.50,586.00C264.38,584.23 266.04,583.57 267.50,582.90C268.96,582.23 269.58,582.07 271.25,582.00C272.92,581.93 275.42,582.15 277.50,582.50C279.58,582.85 281.67,583.37 283.75,584.10C285.83,584.83 287.92,585.92 290.00,586.90C292.08,587.88 294.17,588.86 296.25,590.00C298.33,591.14 300.42,592.40 302.50,593.75C304.58,595.10 306.67,596.54 308.75,598.10C310.83,599.66 312.92,601.53 315.00,603.10C317.08,604.67 319.17,606.14 321.25,607.50C323.33,608.86 325.42,610.21 327.50,611.25C329.58,612.29 331.67,613.08 333.75,613.75C335.83,614.42 337.92,614.83 340.00,615.25C342.08,615.67 344.05,615.98 346.25,616.25C348.45,616.52 352.04,616.79 353.20,616.90L353.20,635.50C351.20,635.70 344.17,636.27 341.20,636.70C338.23,637.13 337.33,637.58 335.40,638.10C333.47,638.62 331.53,639.03 329.60,639.80C327.67,640.57 325.72,641.63 323.80,642.70C321.88,643.77 320.02,644.85 318.10,646.20C316.18,647.55 314.23,649.27 312.30,650.80C310.37,652.33 308.42,653.97 306.50,655.40C304.58,656.83 302.72,658.05 300.80,659.40C298.88,660.75 296.80,662.36 295.00,663.50C293.20,664.64 291.88,665.38 290.00,666.25C288.12,667.12 285.83,668.02 283.75,668.75C281.67,669.48 279.58,670.18 277.50,670.60C275.42,671.02 273.33,671.56 271.25,671.25C269.17,670.94 267.08,670.11 265.00,668.75C262.92,667.39 260.83,665.39 258.75,663.10C256.67,660.81 253.96,657.18 252.50,655.00C251.04,652.82 251.46,651.98 250.00,650.00C248.54,648.02 245.62,645.18 243.75,643.10C241.88,641.02 240.42,639.06 238.75,637.50C237.08,635.94 235.42,634.68 233.75,633.75C232.08,632.82 230.21,633.14 228.75,631.90C227.29,630.66 225.62,627.23 225.00,626.30Z' fill='#c9321b'/>
<path d='M230.00,621.50C230.62,621.30 232.29,621.13 233.75,620.30C235.21,619.47 237.08,617.97 238.75,616.50C240.42,615.03 241.88,613.63 243.75,611.50C245.62,609.37 247.92,606.45 250.00,603.70C252.08,600.95 254.17,597.70 256.25,595.00C258.33,592.30 260.62,589.25 262.50,587.50C264.38,585.75 266.04,585.12 267.50,584.50C268.96,583.88 269.58,583.78 271.25,583.75C272.92,583.72 275.42,583.89 277.50,584.30C279.58,584.71 281.67,585.33 283.75,586.20C285.83,587.07 287.92,587.83 290.00,589.50C292.08,591.17 294.17,594.18 296.25,596.25C298.33,598.32 300.42,600.02 302.50,601.90C304.58,603.77 306.88,605.83 308.75,607.50C310.62,609.17 312.92,611.17 313.75,611.90L313.75,611.90C312.92,611.79 310.62,611.57 308.75,611.25C306.88,610.93 304.58,610.46 302.50,610.00C300.42,609.54 298.33,609.20 296.25,608.50C294.17,607.80 292.50,606.73 290.00,605.80C287.50,604.87 284.38,603.45 281.25,602.90C278.12,602.35 273.96,602.47 271.25,602.50C268.54,602.53 267.08,602.58 265.00,603.10C262.92,603.62 261.25,604.35 258.75,605.60C256.25,606.85 252.92,608.83 250.00,610.60C247.08,612.38 244.17,614.48 241.25,616.25C238.33,618.02 234.38,620.38 232.50,621.25C230.62,622.12 230.42,621.46 230.00,621.50Z' fill='#4262ad'/>
<path d='M226.60,626.30C227.17,625.85 228.18,624.47 230.00,623.60C231.82,622.73 234.17,622.68 237.50,621.10C240.83,619.52 245.42,616.43 250.00,614.10C254.58,611.77 261.46,608.52 265.00,607.10C268.54,605.68 267.08,605.56 271.25,605.60C275.42,605.64 284.79,606.60 290.00,607.35C295.21,608.10 298.33,609.12 302.50,610.10C306.67,611.08 310.83,612.07 315.00,613.20C319.17,614.33 323.33,615.93 327.50,616.90C331.67,617.87 335.72,618.48 340.00,619.00C344.28,619.52 351.00,619.83 353.20,620.00L353.20,635.60C351.20,635.77 345.13,635.97 341.20,636.60C337.27,637.23 333.45,637.93 329.60,639.40C325.75,640.87 321.95,642.95 318.10,645.40C314.25,647.85 310.35,651.30 306.50,654.10C302.65,656.90 297.75,660.53 295.00,662.20C292.25,663.87 292.92,663.20 290.00,664.10C287.08,665.00 280.62,666.93 277.50,667.60C274.38,668.27 273.33,668.60 271.25,668.10C269.17,667.60 267.50,666.52 265.00,664.60C262.50,662.68 258.75,659.35 256.25,656.60C253.75,653.85 252.08,650.60 250.00,648.10C247.92,645.60 245.83,643.77 243.75,641.60C241.67,639.43 239.79,636.93 237.50,635.10C235.21,633.27 231.82,632.07 230.00,630.60C228.18,629.13 227.17,627.02 226.60,626.30Z' fill='#f1c70c'/>
<path d='M228.20,626.30C228.50,626.08 228.45,625.63 230.00,625.00C231.55,624.37 234.17,624.08 237.50,622.50C240.83,620.92 245.42,617.83 250.00,615.50C254.58,613.17 261.46,609.92 265.00,608.50C268.54,607.08 267.08,606.96 271.25,607.00C275.42,607.04 284.79,608.00 290.00,608.75C295.21,609.50 298.33,610.52 302.50,611.50C306.67,612.48 310.83,613.47 315.00,614.60C319.17,615.73 323.33,617.33 327.50,618.30C331.67,619.27 335.72,619.88 340.00,620.40C344.28,620.92 351.00,621.23 353.20,621.40L353.20,634.00C351.20,634.17 345.13,634.37 341.20,635.00C337.27,635.63 333.45,636.33 329.60,637.80C325.75,639.27 321.95,641.35 318.10,643.80C314.25,646.25 310.35,649.70 306.50,652.50C302.65,655.30 297.75,658.93 295.00,660.60C292.25,662.27 292.92,661.60 290.00,662.50C287.08,663.40 280.62,665.33 277.50,666.00C274.38,666.67 273.33,667.00 271.25,666.50C269.17,666.00 267.50,664.92 265.00,663.00C262.50,661.08 258.75,657.75 256.25,655.00C253.75,652.25 252.08,649.00 250.00,646.50C247.92,644.00 245.83,642.17 243.75,640.00C241.67,637.83 239.79,635.33 237.50,633.50C235.21,631.67 231.55,630.20 230.00,629.00C228.45,627.80 228.50,626.75 228.20,626.30Z' fill='#58a77c'/>
<path d='M229.50,626.30C229.67,626.27 229.17,626.42 230.50,626.10C231.83,625.78 234.25,625.21 237.50,624.40C240.75,623.59 245.42,622.38 250.00,621.25C254.58,620.12 261.46,618.26 265.00,617.60C268.54,616.94 267.08,617.30 271.25,617.30C275.42,617.30 286.04,617.38 290.00,617.60C293.96,617.82 290.83,618.27 295.00,618.60C299.17,618.93 307.50,619.12 315.00,619.60C322.50,620.08 333.63,621.05 340.00,621.50C346.37,621.95 351.00,622.17 353.20,622.30L353.20,633.20C351.20,633.40 345.13,633.88 341.20,634.40C337.27,634.92 333.45,635.30 329.60,636.30C325.75,637.30 321.95,638.95 318.10,640.40C314.25,641.85 310.35,643.47 306.50,645.00C302.65,646.53 297.75,648.35 295.00,649.60C292.25,650.85 291.88,651.60 290.00,652.50C288.12,653.40 285.83,654.38 283.75,655.00C281.67,655.62 279.58,656.00 277.50,656.25C275.42,656.50 273.33,656.61 271.25,656.50C269.17,656.39 266.88,656.18 265.00,655.60C263.12,655.02 261.46,654.03 260.00,653.00C258.54,651.97 257.92,651.05 256.25,649.40C254.58,647.75 252.08,645.08 250.00,643.10C247.92,641.12 245.83,639.27 243.75,637.50C241.67,635.73 239.71,633.98 237.50,632.50C235.29,631.02 231.83,629.63 230.50,628.60C229.17,627.57 229.67,626.68 229.50,626.30Z' fill='#48a9c1'/>
<path d='M350.40,619.00 L353.20,617.80 L353.20,620.20Z' fill='#30299a'/>
<clipPath id='fc5'><path d='M206.90,626.30C207.83,625.67 210.53,623.97 212.50,622.50C214.47,621.03 216.67,618.85 218.75,617.50C220.83,616.15 222.92,615.23 225.00,614.40C227.08,613.57 229.38,613.44 231.25,612.50C233.12,611.56 234.58,610.42 236.25,608.75C237.92,607.08 240.00,604.21 241.25,602.50C242.50,600.79 242.29,601.25 243.75,598.50C245.21,595.75 247.92,589.96 250.00,586.00C252.08,582.04 254.17,578.08 256.25,574.75C258.33,571.42 260.62,568.19 262.50,566.00C264.38,563.81 266.04,562.43 267.50,561.60C268.96,560.77 269.58,561.00 271.25,561.00C272.92,561.00 275.42,561.08 277.50,561.60C279.58,562.12 281.67,562.95 283.75,564.10C285.83,565.25 287.29,566.68 290.00,568.50C292.71,570.32 296.88,572.67 300.00,575.00C303.12,577.33 306.25,580.21 308.75,582.50C311.25,584.79 312.92,586.67 315.00,588.75C317.08,590.83 319.17,592.92 321.25,595.00C323.33,597.08 325.42,599.48 327.50,601.25C329.58,603.02 331.67,604.24 333.75,605.60C335.83,606.96 337.92,608.35 340.00,609.40C342.08,610.45 344.05,611.28 346.25,611.90C348.45,612.52 352.04,612.90 353.20,613.10L353.20,639.80C352.15,639.90 348.90,640.02 346.90,640.40C344.90,640.78 343.12,641.43 341.20,642.10C339.28,642.77 337.33,643.43 335.40,644.40C333.47,645.37 331.53,646.55 329.60,647.90C327.67,649.25 325.72,650.77 323.80,652.50C321.88,654.23 320.02,656.28 318.10,658.30C316.18,660.32 314.23,662.58 312.30,664.60C310.37,666.62 308.42,668.58 306.50,670.40C304.58,672.22 302.72,673.90 300.80,675.50C298.88,677.10 296.80,678.73 295.00,680.00C293.20,681.27 291.88,681.85 290.00,683.10C288.12,684.35 285.83,686.25 283.75,687.50C281.67,688.75 279.58,689.98 277.50,690.60C275.42,691.23 273.33,691.77 271.25,691.25C269.17,690.73 267.08,689.38 265.00,687.50C262.92,685.62 260.83,682.92 258.75,680.00C256.67,677.08 254.29,673.17 252.50,670.00C250.71,666.83 249.46,664.00 248.00,661.00C246.54,658.00 245.50,654.67 243.75,652.00C242.00,649.33 239.58,647.04 237.50,645.00C235.42,642.96 233.33,641.00 231.25,639.75C229.17,638.50 227.08,638.39 225.00,637.50C222.92,636.61 220.83,635.65 218.75,634.40C216.67,633.15 214.47,631.35 212.50,630.00C210.53,628.65 207.83,626.92 206.90,626.30Z'/></clipPath>
<rect x='270.60' y='556.2' width='1.6' height='137.50' fill='#ffffff' opacity='0.12' clip-path='url(#fc5)'/>
<rect x='270.60' y='556.2' width='1.6' height='137.50' fill='#ffffff' opacity='0.07'/>
<rect x='16.9' y='474.8' width='5.20' height='2.20' fill='#a0957f' opacity='0.6'/>
<rect x='189.7' y='476.2' width='5.80' height='2.20' fill='#a0957f' opacity='0.6'/>
<rect x='357' y='477.5' width='5.30' height='2.10' fill='#a0957f' opacity='0.6'/>
<rect x='18.1' y='689.1' width='5.70' height='1.80' fill='#a0957f' opacity='0.6'/>
<rect x='202.3' y='688.8' width='5.30' height='1.60' fill='#a0957f' opacity='0.6'/>
<text x='7.80' y='17.90' font-size='12.5' text-anchor='start' font-weight='bold' fill='#000' >A</text>
<text x='8.00' y='320.60' font-size='12.5' text-anchor='start' font-weight='bold' fill='#000' >B</text>
<text x='7.60' y='532.30' font-size='12.5' text-anchor='start' font-weight='bold' fill='#000' >C</text>
<text x='189.60' y='532.30' font-size='12.5' text-anchor='start' font-weight='bold' fill='#000' >D</text>
<text x='81.80' y='326.80' font-size='9.1' text-anchor='start' font-weight='normal' fill='#231f20' textLength='21.9' lengthAdjust='spacingAndGlyphs' >CLL05</text>
<text x='63.00' y='338.80' font-size='9.1' text-anchor='start' font-weight='normal' fill='#231f20' textLength='8.9' lengthAdjust='spacingAndGlyphs' >T0</text>
<text x='113.30' y='338.80' font-size='9.1' text-anchor='start' font-weight='normal' fill='#231f20' textLength='13.0' lengthAdjust='spacingAndGlyphs' >T1a</text>
<text x='160.00' y='338.80' font-size='9.1' text-anchor='start' font-weight='normal' fill='#231f20' textLength='13.2' lengthAdjust='spacingAndGlyphs' >T1b</text>
<text x='248.80' y='326.80' font-size='9.1' text-anchor='start' font-weight='normal' fill='#231f20' textLength='22.4' lengthAdjust='spacingAndGlyphs' >CLL06</text>
<text x='228.80' y='338.80' font-size='9.1' text-anchor='start' font-weight='normal' fill='#231f20' textLength='8.7' lengthAdjust='spacingAndGlyphs' >T0</text>
<text x='331.80' y='338.80' font-size='9.1' text-anchor='start' font-weight='normal' fill='#231f20' textLength='7.7' lengthAdjust='spacingAndGlyphs' >T1</text>
<text x='420.50' y='326.80' font-size='9.1' text-anchor='start' font-weight='normal' fill='#231f20' textLength='22.7' lengthAdjust='spacingAndGlyphs' >CLL19</text>
<text x='421.80' y='338.80' font-size='9.1' text-anchor='start' font-weight='normal' fill='#231f20' textLength='8.7' lengthAdjust='spacingAndGlyphs' >T0</text>
<text x='502.50' y='338.80' font-size='9.1' text-anchor='start' font-weight='normal' fill='#231f20' textLength='8.0' lengthAdjust='spacingAndGlyphs' >T1</text>
<text x='81.30' y='538.60' font-size='9.1' text-anchor='start' font-weight='normal' fill='#231f20' textLength='22.5' lengthAdjust='spacingAndGlyphs' >CLL20</text>
<text x='42.20' y='550.70' font-size='9.1' text-anchor='start' font-weight='normal' fill='#231f20' textLength='9.2' lengthAdjust='spacingAndGlyphs' >T0</text>
<text x='154.00' y='550.70' font-size='9.1' text-anchor='start' font-weight='normal' fill='#231f20' textLength='19.0' lengthAdjust='spacingAndGlyphs' >T1T2</text>
<text x='264.80' y='538.60' font-size='9.1' text-anchor='start' font-weight='normal' fill='#231f20' textLength='23.2' lengthAdjust='spacingAndGlyphs' >CLL02</text>
<text x='265.80' y='550.70' font-size='9.1' text-anchor='start' font-weight='normal' fill='#231f20' textLength='9.3' lengthAdjust='spacingAndGlyphs' >T0</text>
<text x='343.70' y='550.70' font-size='9.1' text-anchor='start' font-weight='normal' fill='#231f20' textLength='8.3' lengthAdjust='spacingAndGlyphs' >T1</text>
<rect x='33.50' y='488.80' width='3.1' height='3.1' fill='#888888'/>
<text x='38.60' y='492.60' font-size='6.7' text-anchor='start' font-weight='normal' fill='#231f20' textLength='24.6' lengthAdjust='spacingAndGlyphs' stroke='#231f20' stroke-width='0.1' >del13q14</text>
<rect x='74.30' y='488.80' width='3.1' height='3.1' fill='#c9321b'/>
<text x='79.40' y='492.60' font-size='6.7' text-anchor='start' font-weight='normal' fill='#231f20' textLength='18.4' lengthAdjust='spacingAndGlyphs' stroke='#231f20' stroke-width='0.1' >TTLL12</text>
<rect x='109.70' y='488.80' width='3.1' height='3.1' fill='#cf5b17'/>
<text x='114.80' y='492.60' font-size='6.7' text-anchor='start' font-weight='normal' fill='#231f20' textLength='20.5' lengthAdjust='spacingAndGlyphs' stroke='#231f20' stroke-width='0.1' >CLSTN2</text>
<rect x='142.90' y='488.80' width='3.1' height='3.1' fill='#f1c70c'/>
<text x='148.00' y='492.60' font-size='6.7' text-anchor='start' font-weight='normal' fill='#231f20' textLength='21.6' lengthAdjust='spacingAndGlyphs' stroke='#231f20' stroke-width='0.1' >FAM83B</text>
<rect x='43.00' y='499.90' width='3.1' height='3.1' fill='#a9c234'/>
<text x='48.10' y='503.70' font-size='6.7' text-anchor='start' font-weight='normal' fill='#231f20' textLength='27.1' lengthAdjust='spacingAndGlyphs' stroke='#231f20' stroke-width='0.1' >SLC25A43</text>
<rect x='93.40' y='499.90' width='3.1' height='3.1' fill='#58a77c'/>
<text x='98.50' y='503.70' font-size='6.7' text-anchor='start' font-weight='normal' fill='#231f20' textLength='24.6' lengthAdjust='spacingAndGlyphs' stroke='#231f20' stroke-width='0.1' >NOTCH1</text>
<rect x='135.30' y='499.90' width='3.1' height='3.1' fill='#48a9c1'/>
<text x='140.40' y='503.70' font-size='6.7' text-anchor='start' font-weight='normal' fill='#231f20' textLength='23.0' lengthAdjust='spacingAndGlyphs' stroke='#231f20' stroke-width='0.1' >PCMTD1</text>
<rect x='188.50' y='488.80' width='3.1' height='3.1' fill='#888888'/>
<text x='193.60' y='492.60' font-size='6.7' text-anchor='start' font-weight='normal' fill='#231f20' textLength='25.2' lengthAdjust='spacingAndGlyphs' stroke='#231f20' stroke-width='0.1' >del13q14</text>
<rect x='223.30' y='488.80' width='3.1' height='3.1' fill='#c9321b'/>
<text x='228.40' y='492.60' font-size='6.7' text-anchor='start' font-weight='normal' fill='#231f20' textLength='29.2' lengthAdjust='spacingAndGlyphs' stroke='#231f20' stroke-width='0.1' >HIST1H1B</text>
<rect x='258.70' y='488.80' width='3.1' height='3.1' fill='#cf5b17'/>
<text x='263.80' y='492.60' font-size='6.7' text-anchor='start' font-weight='normal' fill='#231f20' textLength='17.0' lengthAdjust='spacingAndGlyphs' stroke='#231f20' stroke-width='0.1' >MLLT3</text>
<rect x='285.70' y='488.80' width='3.1' height='3.1' fill='#f1c70c'/>
<text x='290.80' y='492.60' font-size='6.7' text-anchor='start' font-weight='normal' fill='#231f20' textLength='24.6' lengthAdjust='spacingAndGlyphs' stroke='#231f20' stroke-width='0.1' >DNAH14</text>
<rect x='318.70' y='488.80' width='3.1' height='3.1' fill='#a9c234'/>
<text x='323.80' y='492.60' font-size='6.7' text-anchor='start' font-weight='normal' fill='#231f20' textLength='12.4' lengthAdjust='spacingAndGlyphs' stroke='#231f20' stroke-width='0.1' >CDH2</text>
<rect x='204.90' y='499.90' width='3.1' height='3.1' fill='#58a77c'/>
<text x='210.00' y='503.70' font-size='6.7' text-anchor='start' font-weight='normal' fill='#231f20' textLength='18.5' lengthAdjust='spacingAndGlyphs' stroke='#231f20' stroke-width='0.1' >SCN4B</text>
<rect x='237.20' y='499.90' width='3.1' height='3.1' fill='#48a9c1'/>
<text x='242.30' y='503.70' font-size='6.7' text-anchor='start' font-weight='normal' fill='#231f20' textLength='19.1' lengthAdjust='spacingAndGlyphs' stroke='#231f20' stroke-width='0.1' >TASIR2</text>
<rect x='268.50' y='499.90' width='3.1' height='3.1' fill='#4262ad'/>
<text x='273.60' y='503.70' font-size='6.7' text-anchor='start' font-weight='normal' fill='#231f20' textLength='27.7' lengthAdjust='spacingAndGlyphs' stroke='#231f20' stroke-width='0.1' >SLC25A43</text>
<rect x='309.50' y='499.90' width='3.1' height='3.1' fill='#30299a'/>
<text x='314.60' y='503.70' font-size='6.7' text-anchor='start' font-weight='normal' fill='#231f20' textLength='22.5' lengthAdjust='spacingAndGlyphs' stroke='#231f20' stroke-width='0.1' >RBMXL1</text>
<rect x='374.90' y='488.80' width='3.1' height='3.1' fill='#7a7a7a'/>
<text x='380.00' y='492.60' font-size='6.7' text-anchor='start' font-weight='normal' fill='#231f20' textLength='19.1' lengthAdjust='spacingAndGlyphs' stroke='#231f20' stroke-width='0.1' >ULRA6</text>
<rect x='405.00' y='488.80' width='3.1' height='3.1' fill='#c9321b'/>
<text x='410.10' y='492.60' font-size='6.7' text-anchor='start' font-weight='normal' fill='#231f20' textLength='18.1' lengthAdjust='spacingAndGlyphs' stroke='#231f20' stroke-width='0.1' >OR8S1</text>
<rect x='435.80' y='488.80' width='3.1' height='3.1' fill='#cf5b17'/>
<text x='440.90' y='492.60' font-size='6.7' text-anchor='start' font-weight='normal' fill='#231f20' textLength='25.2' lengthAdjust='spacingAndGlyphs' stroke='#231f20' stroke-width='0.1' >AKR1CL1</text>
<rect x='474.20' y='488.80' width='3.1' height='3.1' fill='#f1c70c'/>
<text x='479.30' y='492.60' font-size='6.7' text-anchor='start' font-weight='normal' fill='#231f20' textLength='19.1' lengthAdjust='spacingAndGlyphs' stroke='#231f20' stroke-width='0.1' >MRPL9</text>
<rect x='374.90' y='499.90' width='3.1' height='3.1' fill='#a9c234'/>
<text x='380.00' y='503.70' font-size='6.7' text-anchor='start' font-weight='normal' fill='#231f20' textLength='16.3' lengthAdjust='spacingAndGlyphs' stroke='#231f20' stroke-width='0.1' >VNN1</text>
<rect x='405.00' y='499.90' width='3.1' height='3.1' fill='#58a77c'/>
<text x='410.10' y='503.70' font-size='6.7' text-anchor='start' font-weight='normal' fill='#231f20' textLength='17.5' lengthAdjust='spacingAndGlyphs' stroke='#231f20' stroke-width='0.1' >PRR21</text>
<rect x='435.80' y='499.90' width='3.1' height='3.1' fill='#48a9c1'/>
<text x='440.90' y='503.70' font-size='6.7' text-anchor='start' font-weight='normal' fill='#231f20' textLength='19.0' lengthAdjust='spacingAndGlyphs' stroke='#231f20' stroke-width='0.1' >SCN4B</text>
<rect x='474.20' y='499.90' width='3.1' height='3.1' fill='#4262ad'/>
<text x='479.30' y='503.70' font-size='6.7' text-anchor='start' font-weight='normal' fill='#231f20' textLength='22.8' lengthAdjust='spacingAndGlyphs' stroke='#231f20' stroke-width='0.1' >GTF2H1</text>
<rect x='40.40' y='697.30' width='3.1' height='3.1' fill='#888888'/>
<text x='45.50' y='701.10' font-size='6.7' text-anchor='start' font-weight='normal' fill='#231f20' textLength='25.2' lengthAdjust='spacingAndGlyphs' stroke='#231f20' stroke-width='0.1' >del13q14</text>
<rect x='79.70' y='697.30' width='3.1' height='3.1' fill='#c9321b'/>
<text x='84.80' y='701.10' font-size='6.7' text-anchor='start' font-weight='normal' fill='#231f20' textLength='17.8' lengthAdjust='spacingAndGlyphs' stroke='#231f20' stroke-width='0.1' >KLRC1</text>
<rect x='109.00' y='697.30' width='3.1' height='3.1' fill='#cf5b17'/>
<text x='114.10' y='701.10' font-size='6.7' text-anchor='start' font-weight='normal' fill='#231f20' textLength='15.1' lengthAdjust='spacingAndGlyphs' stroke='#231f20' stroke-width='0.1' >RPGR</text>
<rect x='137.30' y='697.30' width='3.1' height='3.1' fill='#f1c70c'/>
<text x='142.40' y='701.10' font-size='6.7' text-anchor='start' font-weight='normal' fill='#231f20' textLength='13.6' lengthAdjust='spacingAndGlyphs' stroke='#231f20' stroke-width='0.1' >TP53</text>
<rect x='54.90' y='709.00' width='3.1' height='3.1' fill='#a9c234'/>
<text x='60.00' y='712.80' font-size='6.7' text-anchor='start' font-weight='normal' fill='#231f20' textLength='12.3' lengthAdjust='spacingAndGlyphs' stroke='#231f20' stroke-width='0.1' >ATM</text>
<rect x='83.50' y='709.00' width='3.1' height='3.1' fill='#58a77c'/>
<text x='88.60' y='712.80' font-size='6.7' text-anchor='start' font-weight='normal' fill='#231f20' textLength='16.0' lengthAdjust='spacingAndGlyphs' stroke='#231f20' stroke-width='0.1' >MDC1</text>
<rect x='111.20' y='709.00' width='3.1' height='3.1' fill='#48a9c1'/>
<text x='116.30' y='712.80' font-size='6.7' text-anchor='start' font-weight='normal' fill='#231f20' textLength='16.3' lengthAdjust='spacingAndGlyphs' stroke='#231f20' stroke-width='0.1' >PRR21</text>
<rect x='208.50' y='697.30' width='3.1' height='3.1' fill='#888888'/>
<text x='213.60' y='701.10' font-size='6.7' text-anchor='start' font-weight='normal' fill='#231f20' textLength='25.3' lengthAdjust='spacingAndGlyphs' stroke='#231f20' stroke-width='0.1' >del13q14</text>
<rect x='243.30' y='697.30' width='3.1' height='3.1' fill='#c9321b'/>
<text x='248.40' y='701.10' font-size='6.7' text-anchor='start' font-weight='normal' fill='#231f20' textLength='22.1' lengthAdjust='spacingAndGlyphs' stroke='#231f20' stroke-width='0.1' >MAP2K3</text>
<rect x='277.20' y='697.30' width='3.1' height='3.1' fill='#cf5b17'/>
<text x='282.30' y='701.10' font-size='6.7' text-anchor='start' font-weight='normal' fill='#231f20' textLength='17.5' lengthAdjust='spacingAndGlyphs' stroke='#231f20' stroke-width='0.1' >KRT6C</text>
<rect x='306.40' y='697.30' width='3.1' height='3.1' fill='#f1c70c'/>
<text x='311.50' y='701.10' font-size='6.7' text-anchor='start' font-weight='normal' fill='#231f20' textLength='17.5' lengthAdjust='spacingAndGlyphs' stroke='#231f20' stroke-width='0.1' >ZNFX1</text>
<rect x='334.70' y='697.30' width='3.1' height='3.1' fill='#a9c234'/>
<text x='339.80' y='701.10' font-size='6.7' text-anchor='start' font-weight='normal' fill='#231f20' textLength='15.7' lengthAdjust='spacingAndGlyphs' stroke='#231f20' stroke-width='0.1' >TTLL3</text>
<rect x='223.90' y='709.00' width='3.1' height='3.1' fill='#58a77c'/>
<text x='229.00' y='712.80' font-size='6.7' text-anchor='start' font-weight='normal' fill='#231f20' textLength='20.6' lengthAdjust='spacingAndGlyphs' stroke='#231f20' stroke-width='0.1' >VPS13A</text>
<rect x='258.70' y='709.00' width='3.1' height='3.1' fill='#48a9c1'/>
<text x='263.80' y='712.80' font-size='6.7' text-anchor='start' font-weight='normal' fill='#231f20' textLength='17.6' lengthAdjust='spacingAndGlyphs' stroke='#231f20' stroke-width='0.1' >MRPL9</text>
<rect x='287.00' y='709.00' width='3.1' height='3.1' fill='#4262ad'/>
<text x='292.10' y='712.80' font-size='6.7' text-anchor='start' font-weight='normal' fill='#231f20' textLength='18.4' lengthAdjust='spacingAndGlyphs' stroke='#231f20' stroke-width='0.1' >RECQL</text>
<rect x='316.20' y='709.00' width='3.1' height='3.1' fill='#30299a'/>
<text x='321.30' y='712.80' font-size='6.7' text-anchor='start' font-weight='normal' fill='#231f20' textLength='16.9' lengthAdjust='spacingAndGlyphs' stroke='#231f20' stroke-width='0.1' >MLLT3</text>
<rect x='0.5' y='0.5' width='519' height='720.8' fill='none' stroke='#000' stroke-width='1.3'/>
</svg></body></html>
